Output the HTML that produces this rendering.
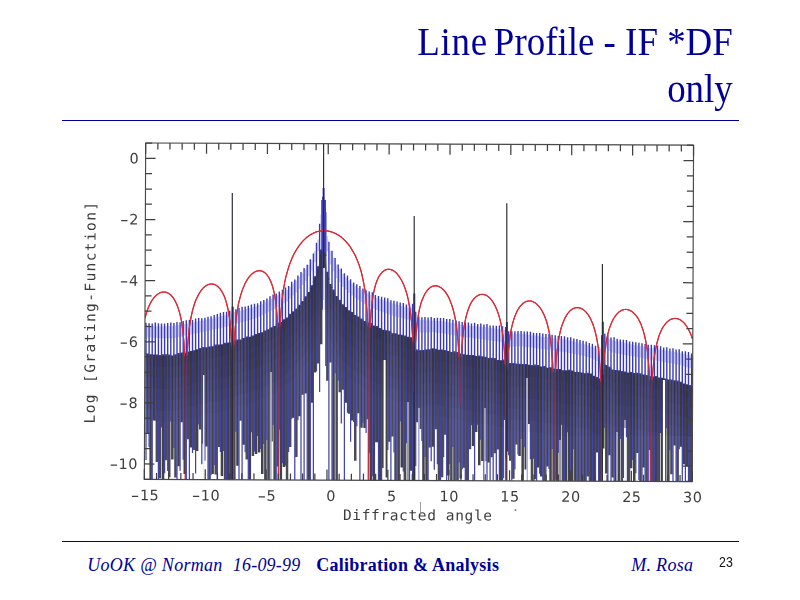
<!DOCTYPE html>
<html><head><meta charset="utf-8"><title>Line Profile - IF *DF only</title>
<style>
html,body{margin:0;padding:0;background:#fff;}
body{width:800px;height:600px;position:relative;overflow:hidden;font-family:"Liberation Serif",serif;color:#000099;}
.title{position:absolute;right:67px;top:18px;text-align:right;font-size:40px;line-height:47px;white-space:nowrap;transform:scaleX(0.923);transform-origin:100% 0;}
.rule{position:absolute;left:62px;width:677px;height:0;border-top:1.3px solid #000099;}
.ft{position:absolute;top:553px;font-size:18px;line-height:24px;white-space:nowrap;}
.it{font-style:italic;}
.num{position:absolute;left:719.3px;top:552.8px;font-family:"Liberation Sans",sans-serif;font-size:15.5px;line-height:18px;color:#111;transform:scaleX(0.8);transform-origin:0 0;}
</style></head><body>
<div class="title"><span style="letter-spacing:0.8px">Line</span><span style="margin-left:-3.6px"> </span>Profile - IF *DF<br>only</div>
<div class="rule" style="top:119.5px"></div>
<svg width="800" height="600" viewBox="0 0 800 600" style="position:absolute;left:0;top:0">
<defs><filter id="bl" x="-5%" y="-5%" width="110%" height="110%"><feGaussianBlur stdDeviation="0.5"/></filter>
<clipPath id="cp"><rect x="145.0" y="142.0" width="548.3" height="337.4" transform="rotate(0.225 145.0 312.0)"/></clipPath></defs>
<g filter="url(#bl)">
<g clip-path="url(#cp)">
<path d="M147.55 325.8V337.4M150.65 325.9V337.6M153.75 326.1V337.9M156.85 326.2V338.1M159.95 326.3V338.3M163.05 326.2V338.3M166.15 326.2V338.3M169.25 326.1V338.2M172.35 326.0V338.2M175.45 325.6V337.7M178.55 325.0V337.0M181.65 324.5V336.4M184.75 323.9V335.7M187.85 323.4V335.1M190.95 322.8V334.5M194.05 322.2V333.8M197.15 321.6V333.2M200.25 321.0V332.5M203.35 320.4V331.9M206.45 319.8V331.2M209.55 319.1V330.5M212.65 318.3V329.8M215.75 317.5V329.1M218.85 316.7V328.4M221.95 316.0V327.7M225.05 315.2V327.0M228.15 314.4V326.2M231.25 312.8V324.9M234.35 311.9V324.0M237.45 311.4V323.3M240.55 310.8V322.6M243.65 309.9V321.7M246.75 309.0V320.8M249.85 308.1V319.9M252.95 307.2V319.0M256.05 306.3V318.1M259.15 304.9V316.7M262.25 303.4V315.2M265.35 301.8V313.7M268.45 300.3V312.2M271.55 298.7V310.7M274.65 297.1V309.0M277.75 295.3V307.1M280.85 293.5V305.2M283.95 291.7V303.3M287.05 289.9V301.4M290.15 286.8V298.4M293.25 283.7V295.4M296.35 280.6V292.4M299.45 277.1V288.7M302.55 273.3V284.9M305.65 269.6V281.1M308.75 265.1V276.3M311.85 259.9V270.7M314.95 251.0V261.9M318.05 239.6V251.0M321.15 214.5V229.1M324.25 197.5V214.1M327.35 236.3V251.2M330.45 250.7V264.5M333.55 257.6V271.2M336.65 264.6V277.9M339.75 269.3V282.3M342.85 274.0V286.7M345.95 277.4V289.8M349.05 280.5V292.7M352.15 283.6V295.5M355.25 286.0V297.9M358.35 288.0V300.0M361.45 290.1V302.1M364.55 291.9V304.0M367.65 293.5V305.5M370.75 295.0V307.1M373.85 296.6V308.6M376.95 298.1V310.1M380.05 299.2V311.2M383.15 300.2V312.3M386.25 301.3V313.4M389.35 302.3V314.5M392.45 303.4V315.6M395.55 304.3V316.4M398.65 305.1V317.2M401.75 305.9V318.0M404.85 306.7V318.8M407.95 307.5V319.5M411.05 307.6V320.0M414.15 296.9V315.0M417.25 317.9V331.3M420.35 319.8V332.6M423.45 320.0V332.5M426.55 320.2V332.4M429.65 320.4V332.3M432.75 320.6V332.2M435.85 320.8V332.5M438.95 321.0V332.8M442.05 321.2V333.2M445.15 321.7V333.7M448.25 322.3V334.3M451.35 322.9V334.9M454.45 323.6V335.5M457.55 324.2V336.1M460.65 324.8V336.7M463.75 325.1V337.0M466.85 325.4V337.4M469.95 325.7V337.8M473.05 326.0V338.2M476.15 326.3V338.6M479.25 326.6V338.9M482.35 326.9V339.3M485.45 327.3V339.7M488.55 327.7V340.2M491.65 328.1V340.6M494.75 328.5V341.1M497.85 329.0V341.6M500.95 329.4V342.0M504.05 329.8V342.5M507.15 327.6V341.9M510.25 334.7V346.7M513.35 334.3V346.6M516.45 333.9V346.4M519.55 333.6V346.3M522.65 333.9V346.5M525.75 334.3V346.9M528.85 334.7V347.3M531.95 335.2V347.6M535.05 335.6V348.0M538.15 336.0V348.5M541.25 336.5V348.9M544.35 336.9V349.3M547.45 337.2V349.7M550.55 337.6V350.2M553.65 338.0V350.6M556.75 338.4V351.0M559.85 338.8V351.4M562.95 339.2V351.8M566.05 339.6V352.3M569.15 340.3V352.9M572.25 341.1V353.5M575.35 341.9V354.2M578.45 342.6V354.8M581.55 343.4V355.5M584.65 344.2V356.1M587.75 345.2V356.9M590.85 346.5V358.0M593.95 347.8V359.5M597.05 349.2V361.1M600.15 348.5V360.9M603.25 328.6V343.1M606.35 337.2V349.1M609.45 339.3V351.1M612.55 340.2V352.5M615.65 340.9V353.2M618.75 341.6V353.8M621.85 342.2V354.4M624.95 342.9V354.9M628.05 343.6V355.5M631.15 344.2V356.1M634.25 344.9V356.6M637.35 345.4V357.2M640.45 346.0V357.8M643.55 346.6V358.3M646.65 347.2V358.9M649.75 347.7V359.4M652.85 348.3V360.0M655.95 348.9V360.5M659.05 349.4V361.1M662.15 349.9V361.7M665.25 350.5V362.3M668.35 351.0V362.9M671.45 351.5V363.4M674.55 352.1V364.0M677.65 352.6V364.6M680.75 353.2V365.3M683.85 354.0V366.2M686.95 354.8V367.2M690.05 355.6V368.1M693.15 356.3V369.0" stroke="#ccccf2" stroke-width="1.6" fill="none"/>
<path d="M145.0 318.2L145.5 316.3L146.0 314.5L146.5 312.9L147.0 311.3L147.5 309.9L148.0 308.5L148.5 307.3L149.0 306.1L149.5 305.0L150.0 304.0L150.5 303.0L151.0 302.1L151.5 301.2L152.0 300.4L152.5 299.6L153.1 298.9L153.6 298.2L154.1 297.6L154.6 297.0L155.1 296.5L155.6 295.9L156.1 295.5L156.6 295.0L157.1 294.6L157.6 294.2L158.1 293.9L158.6 293.5L159.1 293.3L159.6 293.0L160.1 292.8L160.6 292.6L161.1 292.4L161.6 292.3L162.1 292.2L162.6 292.1L163.1 292.0L163.6 292.0L164.1 292.0L164.6 292.0L165.1 292.1L165.6 292.2L166.1 292.3L166.6 292.5L167.1 292.7L167.6 292.9L168.1 293.1L168.6 293.4L169.1 293.7L169.6 294.1L170.1 294.5L170.6 294.9L171.1 295.4L171.6 295.9L172.1 296.5L172.6 297.1L173.1 297.7L173.6 298.4L174.1 299.2L174.5 300.0L175.0 300.8L175.5 301.8L176.0 302.8L176.5 303.8L177.0 305.0L177.5 306.3L178.0 307.6L178.5 309.1L179.0 310.7L179.5 312.4L180.0 314.4L180.5 316.5L181.0 318.8L181.5 321.4L182.0 324.4L182.4 327.8L182.9 331.7L183.4 336.4L183.9 342.2L184.4 349.7L184.8 360.3L185.2 378.6L185.3 479.6L186.2 379.1L186.8 360.6L187.4 349.8L187.9 342.1L188.4 336.1L188.9 331.2L189.4 327.1L190.0 323.5L190.5 320.4L191.0 317.6L191.5 315.1L192.0 312.8L192.5 310.7L193.0 308.8L193.5 307.0L194.0 305.3L194.5 303.8L195.0 302.3L195.5 301.0L196.0 299.7L196.6 298.5L197.1 297.4L197.6 296.4L198.1 295.4L198.6 294.5L199.1 293.6L199.6 292.8L200.1 292.0L200.6 291.2L201.1 290.6L201.6 289.9L202.1 289.3L202.6 288.7L203.1 288.2L203.6 287.7L204.1 287.2L204.6 286.8L205.1 286.4L205.6 286.0L206.1 285.7L206.6 285.4L207.1 285.1L207.6 284.9L208.1 284.7L208.6 284.5L209.1 284.3L209.6 284.2L210.1 284.1L210.6 284.0L211.1 284.0L211.6 284.0L212.1 284.0L212.6 284.1L213.1 284.1L213.6 284.3L214.1 284.4L214.6 284.6L215.1 284.8L215.6 285.0L216.1 285.3L216.6 285.6L217.1 286.0L217.6 286.4L218.1 286.8L218.6 287.2L219.1 287.8L219.6 288.3L220.1 288.9L220.6 289.6L221.1 290.3L221.6 291.0L222.1 291.9L222.6 292.8L223.1 293.7L223.6 294.8L224.1 295.9L224.6 297.1L225.1 298.4L225.5 299.8L226.0 301.4L226.5 303.1L227.0 305.0L227.5 307.0L228.0 309.3L228.5 311.9L229.0 314.8L229.5 318.1L230.0 322.0L230.4 326.7L230.9 332.4L231.4 339.9L231.8 350.5L232.3 368.7L232.3 479.7L233.3 368.4L233.9 349.9L234.4 339.0L234.9 331.2L235.4 325.2L236.0 320.3L236.5 316.1L237.0 312.5L237.5 309.3L238.0 306.5L238.5 303.9L239.0 301.6L239.6 299.4L240.1 297.4L240.6 295.6L241.1 293.9L241.6 292.3L242.1 290.8L242.6 289.4L243.1 288.1L243.6 286.9L244.1 285.7L244.6 284.6L245.1 283.6L245.6 282.6L246.1 281.6L246.6 280.8L247.1 279.9L247.6 279.1L248.1 278.4L248.6 277.7L249.1 277.0L249.6 276.4L250.1 275.8L250.6 275.3L251.1 274.8L251.6 274.3L252.2 273.8L252.7 273.4L253.2 273.0L253.7 272.7L254.2 272.3L254.7 272.0L255.2 271.8L255.7 271.5L256.2 271.3L256.7 271.2L257.2 271.0L257.7 270.9L258.2 270.8L258.7 270.8L259.2 270.7L259.7 270.7L260.2 270.8L260.7 270.8L261.2 270.9L261.7 271.1L262.2 271.2L262.7 271.5L263.2 271.7L263.7 272.0L264.2 272.3L264.7 272.6L265.2 273.0L265.7 273.5L266.2 274.0L266.6 274.5L267.1 275.1L267.6 275.7L268.1 276.5L268.6 277.2L269.1 278.1L269.6 279.0L270.1 280.0L270.6 281.1L271.1 282.3L271.6 283.6L272.1 285.0L272.6 286.6L273.1 288.3L273.6 290.3L274.1 292.4L274.6 294.9L275.1 297.6L275.5 300.8L276.0 304.6L276.5 309.1L277.0 314.7L277.5 322.0L277.9 332.5L278.3 350.6L278.3 479.9L279.4 349.1L279.9 330.5L280.5 319.4L281.0 311.5L281.5 305.4L282.0 300.3L282.6 295.9L283.1 292.2L283.6 288.8L284.1 285.8L284.6 283.0L285.1 280.5L285.6 278.2L286.1 276.0L286.7 274.0L287.2 272.1L287.7 270.4L288.2 268.7L288.7 267.1L289.2 265.6L289.7 264.1L290.2 262.8L290.7 261.4L291.2 260.2L291.7 259.0L292.2 257.8L292.7 256.7L293.2 255.6L293.7 254.6L294.2 253.6L294.7 252.7L295.2 251.8L295.7 250.9L296.2 250.0L296.7 249.2L297.3 248.4L297.8 247.6L298.3 246.9L298.8 246.2L299.3 245.5L299.8 244.8L300.3 244.1L300.8 243.5L301.3 242.9L301.8 242.3L302.3 241.7L302.8 241.2L303.3 240.6L303.8 240.1L304.3 239.6L304.8 239.1L305.3 238.7L305.8 238.2L306.3 237.8L306.8 237.4L307.3 236.9L307.8 236.6L308.3 236.2L308.8 235.8L309.3 235.5L309.8 235.1L310.3 234.8L310.8 234.5L311.3 234.2L311.8 233.9L312.3 233.7L312.8 233.4L313.3 233.2L313.8 232.9L314.3 232.7L314.8 232.5L315.3 232.3L315.8 232.1L316.3 231.9L316.8 231.8L317.3 231.6L317.8 231.5L318.3 231.4L318.8 231.3L319.3 231.1L319.8 231.1L320.3 231.0L320.8 230.9L321.3 230.8L321.8 230.8L322.3 230.8L322.8 230.7L323.3 230.7L323.8 230.7L324.3 230.7L324.8 230.7L325.3 230.7L325.8 230.8L326.3 230.8L326.8 230.9L327.3 230.9L327.8 231.0L328.3 231.1L328.8 231.2L329.3 231.3L329.8 231.4L330.3 231.6L330.8 231.7L331.3 231.8L331.8 232.0L332.3 232.2L332.8 232.4L333.3 232.6L333.8 232.8L334.3 233.0L334.8 233.2L335.3 233.4L335.8 233.7L336.3 233.9L336.8 234.2L337.3 234.5L337.8 234.8L338.3 235.1L338.8 235.4L339.3 235.8L339.8 236.1L340.3 236.5L340.8 236.8L341.3 237.2L341.8 237.6L342.3 238.1L342.8 238.5L343.3 238.9L343.8 239.4L344.3 239.9L344.8 240.4L345.3 240.9L345.8 241.4L346.3 241.9L346.8 242.5L347.3 243.1L347.8 243.7L348.3 244.3L348.8 244.9L349.3 245.6L349.8 246.3L350.3 247.0L350.8 247.7L351.3 248.5L351.7 249.3L352.2 250.1L352.7 250.9L353.2 251.8L353.7 252.7L354.2 253.6L354.7 254.6L355.2 255.6L355.7 256.6L356.2 257.7L356.7 258.9L357.2 260.0L357.7 261.3L358.2 262.6L358.7 263.9L359.2 265.3L359.7 266.8L360.2 268.4L360.7 270.0L361.2 271.8L361.7 273.7L362.1 275.6L362.6 277.8L363.1 280.1L363.6 282.6L364.1 285.3L364.6 288.3L365.1 291.6L365.6 295.3L366.1 299.6L366.5 304.7L367.0 310.8L367.5 318.7L367.9 329.7L368.4 348.3L368.3 480.3L369.4 348.5L369.9 330.4L370.5 320.0L371.0 312.7L371.5 307.1L372.0 302.6L372.6 298.8L373.1 295.7L373.6 292.9L374.1 290.5L374.6 288.3L375.1 286.4L375.6 284.7L376.1 283.1L376.6 281.7L377.1 280.4L377.6 279.2L378.1 278.1L378.6 277.1L379.1 276.2L379.6 275.4L380.1 274.7L380.7 274.0L381.2 273.3L381.7 272.8L382.2 272.2L382.7 271.8L383.2 271.3L383.7 271.0L384.2 270.6L384.7 270.3L385.2 270.1L385.7 269.9L386.2 269.7L386.7 269.5L387.2 269.4L387.7 269.3L388.2 269.3L388.7 269.3L389.2 269.3L389.7 269.4L390.2 269.4L390.7 269.6L391.2 269.7L391.7 269.9L392.2 270.1L392.7 270.3L393.2 270.6L393.7 270.9L394.2 271.2L394.7 271.6L395.2 272.0L395.7 272.4L396.2 272.9L396.7 273.4L397.2 273.9L397.6 274.5L398.1 275.1L398.6 275.7L399.1 276.4L399.6 277.1L400.1 277.9L400.6 278.7L401.1 279.5L401.6 280.4L402.1 281.4L402.6 282.4L403.1 283.5L403.6 284.6L404.1 285.8L404.6 287.1L405.1 288.5L405.6 289.9L406.1 291.5L406.6 293.1L407.1 294.9L407.6 296.8L408.1 298.9L408.5 301.2L409.0 303.6L409.5 306.4L410.0 309.4L410.5 312.9L411.0 316.8L411.5 321.4L411.9 326.9L412.4 333.9L412.9 343.2L413.3 357.7L413.7 391.1L414.2 383.4L414.8 357.5L415.4 344.8L415.9 336.3L416.4 330.0L417.0 325.0L417.5 320.8L418.0 317.3L418.5 314.2L419.0 311.5L419.5 309.2L420.0 307.0L420.5 305.1L421.0 303.3L421.5 301.7L422.0 300.3L422.6 298.9L423.1 297.7L423.6 296.5L424.1 295.5L424.6 294.5L425.1 293.6L425.6 292.8L426.1 292.0L426.6 291.3L427.1 290.6L427.6 290.0L428.1 289.5L428.6 289.0L429.1 288.5L429.6 288.1L430.1 287.7L430.6 287.3L431.1 287.0L431.6 286.8L432.1 286.5L432.6 286.3L433.1 286.2L433.6 286.0L434.1 285.9L434.6 285.9L435.1 285.8L435.6 285.8L436.1 285.9L436.6 285.9L437.1 286.0L437.6 286.1L438.1 286.3L438.6 286.4L439.1 286.7L439.6 286.9L440.1 287.2L440.6 287.5L441.1 287.8L441.6 288.2L442.1 288.6L442.6 289.0L443.1 289.5L443.6 290.0L444.1 290.5L444.6 291.1L445.1 291.7L445.6 292.4L446.1 293.1L446.6 293.8L447.1 294.6L447.6 295.4L448.1 296.3L448.6 297.3L449.1 298.3L449.6 299.4L450.0 300.5L450.5 301.7L451.0 303.0L451.5 304.4L452.0 305.9L452.5 307.5L453.0 309.2L453.5 311.0L454.0 313.0L454.5 315.2L455.0 317.5L455.5 320.2L456.0 323.1L456.4 326.4L456.9 330.2L457.4 334.6L457.9 339.8L458.4 346.4L458.8 355.1L459.3 368.1L459.7 394.2L460.1 404.4L460.8 371.3L461.3 357.1L461.9 347.9L462.4 341.2L462.9 335.9L463.4 331.6L463.9 327.9L464.5 324.7L465.0 321.9L465.5 319.4L466.0 317.2L466.5 315.2L467.0 313.4L467.5 311.7L468.0 310.2L468.5 308.7L469.0 307.4L469.5 306.2L470.0 305.1L470.5 304.1L471.0 303.1L471.5 302.2L472.0 301.4L472.5 300.6L473.0 299.9L473.6 299.3L474.1 298.7L474.6 298.1L475.1 297.6L475.6 297.1L476.1 296.7L476.6 296.3L477.1 296.0L477.6 295.7L478.1 295.4L478.6 295.1L479.1 294.9L479.6 294.7L480.1 294.6L480.6 294.5L481.1 294.4L481.6 294.4L482.1 294.4L482.6 294.4L483.1 294.4L483.6 294.5L484.1 294.6L484.6 294.7L485.1 294.9L485.6 295.1L486.1 295.3L486.6 295.6L487.1 295.9L487.6 296.2L488.1 296.6L488.6 296.9L489.1 297.4L489.6 297.8L490.1 298.3L490.6 298.9L491.1 299.4L491.5 300.0L492.0 300.7L492.5 301.4L493.0 302.1L493.5 302.9L494.0 303.8L494.5 304.7L495.0 305.6L495.5 306.7L496.0 307.7L496.5 308.9L497.0 310.1L497.5 311.5L498.0 312.9L498.5 314.4L499.0 316.0L499.5 317.8L500.0 319.7L500.5 321.7L501.0 324.0L501.4 326.5L501.9 329.3L502.4 332.4L502.9 335.9L503.4 340.0L503.9 344.9L504.4 350.8L504.8 358.5L505.3 369.3L505.7 387.8L505.8 480.8L506.7 388.6L507.3 370.3L507.8 359.7L508.3 352.1L508.9 346.3L509.4 341.6L509.9 337.6L510.4 334.2L510.9 331.3L511.4 328.6L511.9 326.3L512.5 324.1L513.0 322.2L513.5 320.4L514.0 318.8L514.5 317.3L515.0 315.9L515.5 314.7L516.0 313.5L516.5 312.4L517.0 311.3L517.5 310.4L518.0 309.5L518.5 308.7L519.0 307.9L519.5 307.2L520.0 306.5L520.5 305.9L521.0 305.3L521.5 304.8L522.0 304.3L522.5 303.8L523.0 303.4L523.5 303.0L524.0 302.7L524.5 302.4L525.0 302.1L525.5 301.8L526.0 301.6L526.5 301.4L527.0 301.3L527.5 301.2L528.0 301.1L528.5 301.0L529.0 301.0L529.5 301.0L530.0 301.0L530.5 301.0L531.0 301.1L531.5 301.2L532.0 301.3L532.5 301.5L533.0 301.7L533.5 301.9L534.0 302.2L534.5 302.4L535.0 302.8L535.5 303.1L536.0 303.5L536.5 303.9L537.0 304.3L537.5 304.8L538.0 305.3L538.5 305.8L539.0 306.4L539.5 307.0L540.0 307.7L540.5 308.4L541.0 309.2L541.5 310.0L542.0 310.8L542.5 311.7L543.0 312.7L543.5 313.7L544.0 314.8L544.5 315.9L545.0 317.2L545.5 318.5L546.0 319.9L546.5 321.4L547.0 323.0L547.5 324.8L547.9 326.7L548.4 328.7L548.9 331.0L549.4 333.5L549.9 336.2L550.4 339.3L550.9 342.9L551.4 346.9L551.8 351.8L552.3 357.7L552.8 365.4L553.3 376.2L553.7 394.6L553.8 481.0L554.7 395.6L555.2 377.2L555.8 366.6L556.3 359.0L556.8 353.2L557.4 348.5L557.9 344.5L558.4 341.1L558.9 338.1L559.4 335.4L559.9 333.1L560.4 330.9L560.9 329.0L561.4 327.2L561.9 325.6L562.5 324.1L563.0 322.7L563.5 321.4L564.0 320.2L564.5 319.1L565.0 318.1L565.5 317.1L566.0 316.2L566.5 315.4L567.0 314.6L567.5 313.8L568.0 313.2L568.5 312.5L569.0 312.0L569.5 311.4L570.0 310.9L570.5 310.5L571.0 310.0L571.5 309.7L572.0 309.3L572.5 309.0L573.0 308.7L573.5 308.5L574.0 308.2L574.5 308.1L575.0 307.9L575.5 307.8L576.0 307.7L576.5 307.6L577.0 307.6L577.5 307.6L578.0 307.6L578.5 307.7L579.0 307.7L579.5 307.9L580.0 308.0L580.5 308.2L581.0 308.4L581.5 308.6L582.0 308.9L582.5 309.1L583.0 309.5L583.5 309.8L584.0 310.2L584.5 310.6L585.0 311.1L585.5 311.6L586.0 312.1L586.5 312.7L587.0 313.3L587.5 313.9L588.0 314.6L588.5 315.3L589.0 316.1L589.5 316.9L590.0 317.8L590.5 318.8L591.0 319.8L591.5 320.9L592.0 322.0L592.5 323.2L593.0 324.5L593.4 325.9L593.9 327.4L594.4 329.0L594.9 330.7L595.4 332.6L595.9 334.7L596.4 336.9L596.9 339.4L597.4 342.2L597.9 345.3L598.4 348.8L598.8 352.9L599.3 357.7L599.8 363.6L600.3 371.3L600.7 382.1L601.2 400.5L601.3 481.2L602.2 398.6L602.7 380.3L603.3 369.6L603.8 362.0L604.3 356.2L604.8 351.4L605.4 347.5L605.9 344.0L606.4 341.0L606.9 338.4L607.4 336.0L607.9 333.8L608.4 331.9L608.9 330.1L609.4 328.4L609.9 326.9L610.5 325.5L611.0 324.2L611.5 322.9L612.0 321.8L612.5 320.8L613.0 319.8L613.5 318.8L614.0 318.0L614.5 317.2L615.0 316.4L615.5 315.7L616.0 315.1L616.5 314.5L617.0 313.9L617.5 313.4L618.0 312.9L618.5 312.4L619.0 312.0L619.5 311.6L620.0 311.3L620.5 310.9L621.0 310.7L621.5 310.4L622.0 310.2L622.5 310.0L623.0 309.8L623.5 309.7L624.0 309.6L624.5 309.5L625.0 309.5L625.5 309.4L626.0 309.4L626.5 309.5L627.0 309.5L627.5 309.6L628.0 309.7L628.5 309.9L629.0 310.0L629.5 310.2L630.0 310.4L630.5 310.7L631.0 311.0L631.5 311.3L632.0 311.6L632.5 312.0L633.0 312.4L633.5 312.8L634.0 313.3L634.5 313.8L635.0 314.3L635.5 314.9L636.0 315.5L636.5 316.2L637.0 316.9L637.5 317.6L638.0 318.4L638.5 319.3L639.0 320.2L639.5 321.1L640.0 322.1L640.5 323.2L641.0 324.3L641.5 325.6L641.9 326.9L642.4 328.3L642.9 329.8L643.4 331.4L643.9 333.1L644.4 335.0L644.9 337.0L645.4 339.3L645.9 341.8L646.4 344.5L646.9 347.6L647.4 351.1L647.8 355.2L648.3 360.0L648.8 366.0L649.3 373.6L649.7 384.4L650.1 402.8L650.3 481.4L651.1 408.2L651.7 389.8L652.2 379.1L652.8 371.5L653.3 365.7L653.8 361.0L654.3 357.0L654.8 353.5L655.4 350.5L655.9 347.8L656.4 345.4L656.9 343.3L657.4 341.3L657.9 339.5L658.4 337.8L658.9 336.3L659.4 334.9L659.9 333.6L660.4 332.3L660.9 331.2L661.4 330.1L661.9 329.1L662.4 328.2L662.9 327.3L663.4 326.5L664.0 325.7L664.5 325.0L665.0 324.4L665.5 323.7L666.0 323.2L666.5 322.6L667.0 322.1L667.5 321.6L668.0 321.2L668.5 320.8L669.0 320.5L669.5 320.1L670.0 319.8L670.5 319.6L671.0 319.3L671.5 319.1L672.0 318.9L672.5 318.8L673.0 318.7L673.5 318.6L674.0 318.5L674.5 318.4L675.0 318.4L675.5 318.4L676.0 318.5L676.5 318.5L677.0 318.6L677.5 318.7L678.0 318.9L678.5 319.1L679.0 319.3L679.5 319.5L680.0 319.8L680.5 320.0L681.0 320.3L681.5 320.7L682.0 321.1L682.5 321.5L683.0 321.9L683.5 322.4L684.0 322.9L684.5 323.4L685.0 324.0L685.5 324.6L686.0 325.3L686.4 326.0L686.9 326.7L687.4 327.5L687.9 328.4L688.4 329.2L688.9 330.2L689.4 331.2L689.9 332.3L690.4 333.4L690.9 334.6L691.4 335.9L691.9 337.3L692.4 338.8" stroke="#d8303a" stroke-width="1.2" fill="none" stroke-linejoin="round"/>
<path d="M150.65 354.2V479.4M153.75 354.4V420.4M163.05 354.3V479.5M172.35 355.5V459.4M178.55 353.1V466.2M181.65 352.5V422.3M184.75 352.8V473.9M190.95 351.1V447.6M197.15 349.2V451.1M206.45 347.2V446.6M212.65 346.2V473.9M221.95 344.3V475.9M228.15 342.4V479.7M231.25 342.4V479.7M237.45 339.4V465.8M243.65 338.0V444.7M249.85 336.8V479.8M256.05 334.1V454.0M259.15 332.9V452.4M262.25 332.3V474.1M271.55 327.3V441.5M274.65 326.0V479.9M280.85 322.0V479.9M283.95 319.3V466.9M293.25 311.2V417.7M299.45 304.7V416.2M305.65 296.3V393.5M308.75 291.9V480.0M311.85 285.3V402.8M314.95 276.3V372.6M321.15 249.5V344.2M333.55 289.6V480.1M345.95 307.0V402.7M352.15 312.1V420.4M358.35 316.4V413.2M361.45 318.5V427.8M364.55 320.9V428.1M370.75 323.0V480.3M373.85 325.4V479.9M376.95 326.1V442.3M380.05 327.9V480.3M383.15 329.7V467.9M386.25 330.2V477.6M398.65 334.5V480.4M401.75 334.8V467.6M407.95 336.7V480.4M411.05 337.2V470.7M414.15 342.2V480.5M423.45 350.0V480.5M426.55 349.4V480.5M432.75 348.3V446.7M448.25 350.9V475.4M473.05 355.0V446.1M476.15 356.0V431.9M479.25 355.6V465.2M482.35 356.2V461.1M485.45 356.8V461.2M488.55 358.0V462.4M500.95 360.2V480.8M504.05 359.6V478.2M507.15 362.8V451.5M519.55 363.8V456.1M522.65 363.9V480.9M525.75 363.9V469.4M528.85 364.8V424.1M538.15 365.0V467.4M541.25 366.4V476.5M547.45 367.7V466.6M550.55 367.3V481.0M553.65 368.7V481.0M556.75 369.0V481.0M559.85 369.1V481.0M566.05 370.3V481.1M569.15 369.8V481.1M572.25 370.4V481.1M575.35 372.0V481.1M581.55 372.6V481.1M584.65 373.2V481.1M590.85 373.5V481.2M593.95 375.7V481.2M597.05 377.1V452.5M600.15 378.4V481.2M603.25 364.4V448.5M606.35 365.1V473.5M609.45 366.7V455.2M615.65 370.1V481.2M618.75 370.3V481.3M631.15 372.0V468.2M634.25 372.9V481.3M637.35 372.7V452.9M643.55 374.5V467.4M655.95 376.1V481.4M662.15 377.8V481.4M665.25 378.6V481.4M668.35 379.4V481.5M674.55 380.3V445.5M680.75 381.8V446.8M683.85 383.6V464.2M686.95 384.2V466.3M693.15 387.3V481.6" stroke="#42424a" stroke-width="2.5" fill="none"/>
<path d="M147.55 353.4V433.3M156.85 354.5V461.9M159.95 354.9V478.3M166.15 354.2V460.2M169.25 354.6V477.3M175.45 354.3V477.5M187.85 351.8V439.2M194.05 350.3V450.1M200.25 348.1V429.4M203.35 347.0V443.7M209.55 346.6V479.7M215.75 344.4V474.5M218.85 344.6V446.9M225.05 342.8V479.7M234.35 341.3V479.8M240.55 339.6V420.8M246.75 336.4V459.5M252.95 335.5V456.0M265.35 330.5V479.9M268.45 329.2V479.9M277.75 322.8V466.4M287.05 317.6V480.0M290.15 313.7V446.9M296.35 308.6V457.0M302.55 301.0V394.8M318.05 266.3V363.4M324.25 237.5V309.9M327.35 271.8V380.7M330.45 283.9V362.5M336.65 296.1V480.2M339.75 299.8V392.2M342.85 304.3V389.7M349.05 310.2V413.8M355.25 314.9V460.8M367.65 322.6V419.2M389.35 330.7V441.7M392.45 333.2V436.4M395.55 333.3V480.4M404.85 335.5V480.4M417.25 349.4V422.2M420.35 350.1V428.9M429.65 349.3V447.4M435.85 348.8V429.3M438.95 349.8V480.6M442.05 349.4V477.2M445.15 350.1V434.7M451.35 352.1V480.6M454.45 351.3V480.6M457.55 352.0V480.6M460.65 353.5V478.5M463.75 354.3V467.8M466.85 354.7V480.7M469.95 355.1V449.2M491.65 357.7V457.3M494.75 358.0V453.3M497.85 359.9V449.4M510.25 363.0V460.7M513.35 362.9V478.7M516.45 363.4V444.4M531.95 364.9V480.9M535.05 364.5V479.3M544.35 366.1V481.0M562.95 370.2V481.0M578.45 372.0V481.1M587.75 372.7V476.5M612.55 369.5V477.4M621.85 370.9V481.3M624.95 371.5V428.0M628.05 372.5V481.3M640.45 373.2V481.3M646.65 375.0V481.4M649.75 376.2V450.0M652.85 376.5V481.4M659.05 377.5V481.4M671.45 379.5V474.3M677.65 380.6V481.5M690.05 384.9V481.5" stroke="#4b4b58" stroke-width="2.5" fill="none"/>
<path d="M146.00 322.7V354.1M149.10 323.2V354.5M152.20 323.6V355.0M155.30 322.6V355.4M158.40 323.2V355.8M161.50 323.5V356.0M164.60 323.6V356.0M167.70 323.0V356.0M170.80 322.6V356.0M173.90 323.1V355.8M177.00 322.1V355.0M180.10 322.3V354.2M183.20 320.9V353.4M186.30 320.2V352.6M189.40 319.7V351.9M192.50 320.1V351.1M195.60 318.4V350.4M198.70 318.0V349.7M201.80 318.3V348.9M204.90 317.7V348.2M208.00 316.7V347.5M211.10 316.2V346.9M214.20 315.0V346.4M217.30 314.0V345.8M220.40 312.8V345.2M223.50 312.0V344.6M226.60 311.7V344.1M229.70 310.8V343.2M232.80 307.1V342.2M235.90 309.2V341.3M239.00 307.9V340.3M242.10 306.8V339.4M245.20 306.4V338.5M248.30 305.7V337.6M251.40 304.6V336.6M254.50 303.8V335.7M257.60 303.2V334.7M260.70 301.2V333.3M263.80 299.9V331.9M266.90 298.6V330.5M270.00 296.3V329.1M273.10 294.4V327.6M276.20 293.5V325.5M279.30 291.6V323.3M282.40 289.7V321.2M285.50 287.6V319.0M288.60 286.0V316.6M291.70 281.7V313.8M294.80 279.4V311.0M297.90 275.6V307.8M301.00 272.0V303.8M304.10 267.9V299.8M307.20 264.8V295.6M310.30 259.2V289.4M313.40 253.6V282.7M316.50 242.8V272.8M319.60 223.8V259.4M322.70 196.7V240.1M325.80 212.3V256.0M328.90 241.7V279.7M332.00 250.8V288.1M335.10 258.1V294.4M338.20 264.6V299.6M341.30 268.5V303.5M344.40 273.2V306.9M347.50 275.5V309.4M350.60 279.2V311.8M353.70 282.5V314.3M356.80 284.2V316.5M359.90 286.0V318.6M363.00 288.6V320.8M366.10 290.3V322.4M369.20 291.5V324.0M372.30 292.3V325.5M375.40 294.9V327.1M378.50 296.1V328.4M381.60 296.8V329.5M384.70 297.6V330.6M387.80 298.2V331.7M390.90 300.2V332.8M394.00 300.8V333.9M397.10 301.6V334.6M400.20 302.6V335.4M403.30 303.0V336.1M406.40 304.4V336.8M409.50 304.6V337.6M412.60 303.8V338.7M415.70 311.8V350.1M418.80 316.8V351.6M421.90 317.3V351.0M425.00 317.0V350.5M428.10 317.4V349.9M431.20 317.0V349.3M434.30 317.9V349.2M437.40 317.8V349.8M440.50 318.0V350.4M443.60 318.1V351.0M446.70 319.0V351.5M449.80 319.1V352.1M452.90 319.7V352.7M456.00 320.4V353.3M459.10 321.2V353.8M462.20 321.9V354.3M465.30 322.6V354.8M468.40 322.6V355.3M471.50 323.4V355.8M474.60 322.7V356.3M477.70 323.9V356.8M480.80 323.4V357.3M483.90 324.5V357.8M487.00 324.0V358.3M490.10 325.5V358.8M493.20 325.6V359.3M496.30 325.8V359.8M499.40 325.6V360.4M502.50 326.3V360.9M505.60 327.0V361.9M508.70 331.3V364.1M511.80 331.3V364.4M514.90 331.3V364.7M518.00 331.1V364.9M521.10 330.9V365.1M524.20 331.4V365.3M527.30 331.4V365.6M530.40 331.8V365.8M533.50 332.8V366.0M536.60 333.0V366.5M539.70 333.1V367.0M542.80 333.5V367.4M545.90 334.1V367.9M549.00 333.9V368.4M552.10 334.8V368.8M555.20 335.3V369.3M558.30 336.0V369.7M561.40 336.1V370.2M564.50 336.2V370.7M567.60 337.3V371.1M570.70 337.3V371.6M573.80 338.6V372.0M576.90 339.1V372.4M580.00 340.0V372.9M583.10 340.7V373.3M586.20 341.5V373.8M589.30 342.9V374.2M592.40 343.7V375.7M595.50 345.7V377.6M598.60 347.0V379.3M601.70 335.2V377.4M604.80 333.7V365.3M607.90 335.1V367.4M611.00 337.4V369.5M614.10 337.2V371.1M617.20 338.7V371.5M620.30 339.4V371.9M623.40 339.8V372.4M626.50 339.9V372.8M629.60 341.4V373.2M632.70 341.7V373.6M635.80 342.3V374.1M638.90 342.8V374.7M642.00 343.2V375.2M645.10 344.1V375.7M648.20 344.7V376.2M651.30 344.7V376.8M654.40 345.3V377.3M657.50 345.6V377.9M660.60 346.3V378.5M663.70 347.6V379.2M666.80 347.3V379.9M669.90 348.4V380.5M673.00 348.3V381.2M676.10 349.6V381.9M679.20 349.3V382.5M682.30 351.2V383.6M685.40 351.3V384.8M688.50 352.0V386.0M691.60 353.4V387.2" stroke="#3838be" stroke-width="1.4" fill="none"/>
<path d="M146.00 353.1V460.0M149.10 353.5V447.1M152.20 354.0V479.4M155.30 354.4V420.8M158.40 354.8V479.5M161.50 355.0V427.5M164.60 355.0V473.2M167.70 355.0V470.9M170.80 355.0V421.6M173.90 354.8V448.0M177.00 354.0V479.5M180.10 353.2V470.7M183.20 352.4V459.7M186.30 351.6V479.6M189.40 350.9V479.6M192.50 350.1V452.9M195.60 349.4V473.5M198.70 348.7V424.6M201.80 347.9V464.2M204.90 347.2V460.7M208.00 346.5V479.6M211.10 345.9V475.2M214.20 345.4V465.1M217.30 344.8V479.7M220.40 344.2V452.0M223.50 343.6V451.0M226.60 343.1V479.7M229.70 342.2V479.7M232.80 341.2V432.9M235.90 340.3V431.7M239.00 339.3V479.8M242.10 338.4V479.8M245.20 337.5V452.3M248.30 336.6V479.8M251.40 335.6V432.3M254.50 334.7V451.5M257.60 333.7V436.1M260.70 332.3V449.1M263.80 330.9V444.1M266.90 329.5V439.9M270.00 328.1V479.9M273.10 326.6V424.9M276.20 324.5V479.9M279.30 322.3V429.7M282.40 320.2V463.2M285.50 318.0V465.8M288.60 315.6V452.1M291.70 312.8V418.9M294.80 310.0V480.0M297.90 306.8V420.0M301.00 302.8V480.0M304.10 298.8V480.0M307.20 294.6V480.0M310.30 288.4V480.0M313.40 281.7V480.1M316.50 271.8V371.2M319.60 258.4V392.1M322.70 239.1V309.7M325.80 255.0V366.1M328.90 278.7V480.1M332.00 287.1V480.1M335.10 293.4V373.2M338.20 298.6V380.4M341.30 302.5V423.5M344.40 305.9V480.2M347.50 308.4V412.7M350.60 310.8V441.7M353.70 313.3V422.1M356.80 315.5V426.2M359.90 317.6V480.2M363.00 319.8V422.7M366.10 321.4V433.0M369.20 323.0V452.7M372.30 324.5V476.2M375.40 326.1V442.2M378.50 327.4V480.3M381.60 328.5V480.3M384.70 329.6V474.2M387.80 330.7V450.1M390.90 331.8V480.4M394.00 332.9V452.6M397.10 333.6V480.4M400.20 334.4V421.4M403.30 335.1V471.6M406.40 335.8V443.2M409.50 336.6V480.4M412.60 337.7V480.5M415.70 349.1V466.1M418.80 350.6V480.5M421.90 350.0V441.0M425.00 349.5V457.1M428.10 348.9V480.5M431.20 348.3V461.2M434.30 348.2V469.8M437.40 348.8V464.2M440.50 349.4V480.6M443.60 350.0V456.9M446.70 350.5V480.6M449.80 351.1V464.2M452.90 351.7V447.0M456.00 352.3V480.6M459.10 352.8V462.6M462.20 353.3V469.2M465.30 353.8V480.7M468.40 354.3V480.7M471.50 354.8V425.3M474.60 355.3V480.7M477.70 355.8V424.8M480.80 356.3V439.7M483.90 356.8V480.7M487.00 357.3V480.7M490.10 357.8V480.8M493.20 358.3V480.8M496.30 358.8V480.8M499.40 359.4V480.8M502.50 359.9V480.8M505.60 360.9V458.9M508.70 363.1V455.2M511.80 363.4V480.8M514.90 363.7V469.5M518.00 363.9V454.4M521.10 364.1V439.0M524.20 364.3V447.3M527.30 364.6V480.9M530.40 364.8V459.3M533.50 365.0V458.8M536.60 365.5V480.9M539.70 366.0V473.7M542.80 366.4V481.0M545.90 366.9V481.0M549.00 367.4V469.1M552.10 367.8V448.9M555.20 368.3V479.7M558.30 368.7V452.7M561.40 369.2V424.7M564.50 369.7V481.0M567.60 370.1V432.2M570.70 370.6V481.1M573.80 371.0V449.2M576.90 371.4V481.1M580.00 371.9V481.1M583.10 372.3V481.1M586.20 372.8V481.1M589.30 373.2V481.1M592.40 374.7V481.2M595.50 376.6V481.2M598.60 378.3V481.2M601.70 376.4V464.5M604.80 364.3V427.8M607.90 366.4V481.2M611.00 368.5V481.2M614.10 370.1V481.2M617.20 370.5V481.3M620.30 370.9V438.9M623.40 371.4V478.0M626.50 371.8V437.3M629.60 372.2V481.3M632.70 372.6V460.0M635.80 373.1V473.2M638.90 373.7V479.9M642.00 374.2V481.4M645.10 374.7V481.4M648.20 375.2V481.4M651.30 375.8V481.4M654.40 376.3V481.4M657.50 376.9V481.4M660.60 377.5V432.9M663.70 378.2V464.7M666.80 378.9V428.2M669.90 379.5V450.3M673.00 380.2V481.5M676.10 380.9V481.5M679.20 381.5V449.2M682.30 382.6V481.5M685.40 383.8V481.5M688.50 385.0V481.5M691.60 386.2V481.5" stroke="#4242b0" stroke-width="1.25" fill="none"/>
<polygon points="144.0,354.0 146.0,354.1 148.0,354.4 150.0,354.7 152.0,354.9 154.0,355.2 156.0,355.5 158.0,355.7 160.0,356.0 162.0,356.0 164.0,356.0 166.0,356.0 168.0,356.0 170.0,356.0 172.0,356.0 174.0,355.7 176.0,355.2 178.0,354.7 180.0,354.2 182.0,353.7 184.0,353.2 186.0,352.7 188.0,352.2 190.0,351.7 192.0,351.2 194.0,350.8 196.0,350.3 198.0,349.8 200.0,349.3 202.0,348.9 204.0,348.4 206.0,347.9 208.0,347.5 210.0,347.1 212.0,346.8 214.0,346.4 216.0,346.0 218.0,345.7 220.0,345.3 222.0,344.9 224.0,344.6 226.0,344.2 228.0,343.7 230.0,343.1 232.0,342.5 234.0,341.8 236.0,341.2 238.0,340.6 240.0,340.0 242.0,339.4 244.0,338.8 246.0,338.2 248.0,337.6 250.0,337.1 252.0,336.5 254.0,335.9 256.0,335.3 258.0,334.5 260.0,333.6 262.0,332.7 264.0,331.8 266.0,330.9 268.0,330.0 270.0,329.1 272.0,328.2 274.0,327.0 276.0,325.6 278.0,324.2 280.0,322.9 282.0,321.5 284.0,320.1 286.0,318.7 288.0,317.1 290.0,315.3 292.0,313.5 294.0,311.7 296.0,309.9 298.0,307.7 300.0,305.1 302.0,302.5 304.0,299.9 306.0,297.3 308.0,294.0 310.0,290.0 312.0,286.0 314.0,280.8 316.0,274.4 318.0,268.0 320.0,257.2 322.0,245.6 324.0,236.8 326.0,259.3 328.0,276.1 330.0,284.0 332.0,288.1 334.0,292.2 336.0,296.3 338.0,299.3 340.0,301.9 342.0,304.4 344.0,306.6 346.0,308.2 348.0,309.8 350.0,311.4 352.0,313.0 354.0,314.5 356.0,315.9 358.0,317.3 360.0,318.7 362.0,320.1 364.0,321.4 366.0,322.4 368.0,323.4 370.0,324.4 372.0,325.4 374.0,326.4 376.0,327.4 378.0,328.2 380.0,328.9 382.0,329.6 384.0,330.3 386.0,331.1 388.0,331.8 390.0,332.5 392.0,333.2 394.0,333.9 396.0,334.3 398.0,334.8 400.0,335.3 402.0,335.8 404.0,336.3 406.0,336.7 408.0,337.2 410.0,337.7 412.0,338.4 414.0,341.8 416.0,350.3 418.0,351.5 420.0,351.4 422.0,351.0 424.0,350.7 426.0,350.3 428.0,349.9 430.0,349.6 432.0,349.2 434.0,349.2 436.0,349.6 438.0,349.9 440.0,350.3 442.0,350.7 444.0,351.0 446.0,351.4 448.0,351.8 450.0,352.1 452.0,352.5 454.0,352.9 456.0,353.3 458.0,353.6 460.0,354.0 462.0,354.3 464.0,354.6 466.0,355.0 468.0,355.3 470.0,355.6 472.0,355.9 474.0,356.2 476.0,356.5 478.0,356.9 480.0,357.2 482.0,357.5 484.0,357.8 486.0,358.1 488.0,358.5 490.0,358.8 492.0,359.1 494.0,359.5 496.0,359.8 498.0,360.1 500.0,360.5 502.0,360.8 504.0,361.3 506.0,362.0 508.0,364.0 510.0,364.3 512.0,364.4 514.0,364.6 516.0,364.7 518.0,364.9 520.0,365.0 522.0,365.2 524.0,365.3 526.0,365.5 528.0,365.6 530.0,365.8 532.0,365.9 534.0,366.1 536.0,366.4 538.0,366.7 540.0,367.0 542.0,367.3 544.0,367.6 546.0,367.9 548.0,368.2 550.0,368.5 552.0,368.8 554.0,369.1 556.0,369.4 558.0,369.7 560.0,370.0 562.0,370.3 564.0,370.6 566.0,370.9 568.0,371.2 570.0,371.5 572.0,371.8 574.0,372.0 576.0,372.3 578.0,372.6 580.0,372.9 582.0,373.2 584.0,373.5 586.0,373.7 588.0,374.0 590.0,374.3 592.0,375.5 594.0,376.7 596.0,377.9 598.0,379.1 600.0,379.1 602.0,374.9 604.0,364.8 606.0,366.1 608.0,367.4 610.0,368.8 612.0,370.1 614.0,371.1 616.0,371.4 618.0,371.6 620.0,371.9 622.0,372.2 624.0,372.4 626.0,372.7 628.0,373.0 630.0,373.3 632.0,373.5 634.0,373.8 636.0,374.2 638.0,374.5 640.0,374.8 642.0,375.2 644.0,375.5 646.0,375.9 648.0,376.2 650.0,376.6 652.0,376.9 654.0,377.2 656.0,377.6 658.0,378.0 660.0,378.4 662.0,378.8 664.0,379.3 666.0,379.7 668.0,380.1 670.0,380.6 672.0,381.0 674.0,381.4 676.0,381.8 678.0,382.3 680.0,382.7 682.0,383.5 684.0,384.2 686.0,385.0 688.0,385.8 690.0,386.5 692.0,387.3 694.0,387.7 694.0,398.7 692.0,398.3 690.0,397.5 688.0,396.8 686.0,396.0 684.0,395.2 682.0,394.5 680.0,393.7 678.0,393.3 676.0,392.8 674.0,392.4 672.0,392.0 670.0,391.6 668.0,391.1 666.0,390.7 664.0,390.3 662.0,389.8 660.0,389.4 658.0,389.0 656.0,388.6 654.0,388.2 652.0,387.9 650.0,387.6 648.0,387.2 646.0,386.9 644.0,386.5 642.0,386.2 640.0,385.8 638.0,385.5 636.0,385.2 634.0,384.8 632.0,384.5 630.0,384.3 628.0,384.0 626.0,383.7 624.0,383.4 622.0,383.2 620.0,382.9 618.0,382.6 616.0,382.4 614.0,382.1 612.0,381.1 610.0,379.8 608.0,378.4 606.0,377.1 604.0,375.8 602.0,385.9 600.0,390.1 598.0,390.1 596.0,388.9 594.0,387.7 592.0,386.5 590.0,385.3 588.0,385.0 586.0,384.7 584.0,384.5 582.0,384.2 580.0,383.9 578.0,383.6 576.0,383.3 574.0,383.0 572.0,382.8 570.0,382.5 568.0,382.2 566.0,381.9 564.0,381.6 562.0,381.3 560.0,381.0 558.0,380.7 556.0,380.4 554.0,380.1 552.0,379.8 550.0,379.5 548.0,379.2 546.0,378.9 544.0,378.6 542.0,378.3 540.0,378.0 538.0,377.7 536.0,377.4 534.0,377.1 532.0,376.9 530.0,376.8 528.0,376.6 526.0,376.5 524.0,376.3 522.0,376.2 520.0,376.0 518.0,375.9 516.0,375.7 514.0,375.6 512.0,375.4 510.0,375.3 508.0,375.0 506.0,373.0 504.0,372.3 502.0,371.8 500.0,371.5 498.0,371.1 496.0,370.8 494.0,370.5 492.0,370.1 490.0,369.8 488.0,369.5 486.0,369.1 484.0,368.8 482.0,368.5 480.0,368.2 478.0,367.9 476.0,367.5 474.0,367.2 472.0,366.9 470.0,366.6 468.0,366.3 466.0,366.0 464.0,365.6 462.0,365.3 460.0,365.0 458.0,364.6 456.0,364.3 454.0,363.9 452.0,363.5 450.0,363.1 448.0,362.8 446.0,362.4 444.0,362.0 442.0,361.7 440.0,361.3 438.0,360.9 436.0,360.6 434.0,360.2 432.0,360.2 430.0,360.6 428.0,360.9 426.0,361.3 424.0,361.7 422.0,362.0 420.0,362.4 418.0,362.5 416.0,361.3 414.0,352.8 412.0,349.4 410.0,348.7 408.0,348.2 406.0,347.7 404.0,347.3 402.0,346.8 400.0,346.3 398.0,345.8 396.0,345.3 394.0,344.9 392.0,344.2 390.0,343.5 388.0,342.8 386.0,342.1 384.0,341.3 382.0,340.6 380.0,339.9 378.0,339.2 376.0,338.4 374.0,337.4 372.0,336.4 370.0,335.4 368.0,334.4 366.0,333.4 364.0,332.4 362.0,331.1 360.0,329.7 358.0,328.3 356.0,326.9 354.0,325.5 352.0,324.0 350.0,322.4 348.0,320.8 346.0,319.2 344.0,317.6 342.0,315.4 340.0,312.9 338.0,310.3 336.0,307.3 334.0,303.2 332.0,299.1 330.0,295.0 328.0,287.1 326.0,270.3 324.0,247.8 322.0,256.6 320.0,268.2 318.0,279.0 316.0,285.4 314.0,291.8 312.0,297.0 310.0,301.0 308.0,305.0 306.0,308.3 304.0,310.9 302.0,313.5 300.0,316.1 298.0,318.7 296.0,320.9 294.0,322.7 292.0,324.5 290.0,326.3 288.0,328.1 286.0,329.7 284.0,331.1 282.0,332.5 280.0,333.9 278.0,335.2 276.0,336.6 274.0,338.0 272.0,339.2 270.0,340.1 268.0,341.0 266.0,341.9 264.0,342.8 262.0,343.7 260.0,344.6 258.0,345.5 256.0,346.3 254.0,346.9 252.0,347.5 250.0,348.1 248.0,348.6 246.0,349.2 244.0,349.8 242.0,350.4 240.0,351.0 238.0,351.6 236.0,352.2 234.0,352.8 232.0,353.5 230.0,354.1 228.0,354.7 226.0,355.2 224.0,355.6 222.0,355.9 220.0,356.3 218.0,356.7 216.0,357.0 214.0,357.4 212.0,357.8 210.0,358.1 208.0,358.5 206.0,358.9 204.0,359.4 202.0,359.9 200.0,360.3 198.0,360.8 196.0,361.3 194.0,361.8 192.0,362.2 190.0,362.7 188.0,363.2 186.0,363.7 184.0,364.2 182.0,364.7 180.0,365.2 178.0,365.7 176.0,366.2 174.0,366.7 172.0,367.0 170.0,367.0 168.0,367.0 166.0,367.0 164.0,367.0 162.0,367.0 160.0,367.0 158.0,366.7 156.0,366.5 154.0,366.2 152.0,365.9 150.0,365.7 148.0,365.4 146.0,365.1 144.0,365.0" fill="#101018" opacity="0.048"/>
<polygon points="144.0,354.0 146.0,354.1 148.0,354.4 150.0,354.7 152.0,354.9 154.0,355.2 156.0,355.5 158.0,355.7 160.0,356.0 162.0,356.0 164.0,356.0 166.0,356.0 168.0,356.0 170.0,356.0 172.0,356.0 174.0,355.7 176.0,355.2 178.0,354.7 180.0,354.2 182.0,353.7 184.0,353.2 186.0,352.7 188.0,352.2 190.0,351.7 192.0,351.2 194.0,350.8 196.0,350.3 198.0,349.8 200.0,349.3 202.0,348.9 204.0,348.4 206.0,347.9 208.0,347.5 210.0,347.1 212.0,346.8 214.0,346.4 216.0,346.0 218.0,345.7 220.0,345.3 222.0,344.9 224.0,344.6 226.0,344.2 228.0,343.7 230.0,343.1 232.0,342.5 234.0,341.8 236.0,341.2 238.0,340.6 240.0,340.0 242.0,339.4 244.0,338.8 246.0,338.2 248.0,337.6 250.0,337.1 252.0,336.5 254.0,335.9 256.0,335.3 258.0,334.5 260.0,333.6 262.0,332.7 264.0,331.8 266.0,330.9 268.0,330.0 270.0,329.1 272.0,328.2 274.0,327.0 276.0,325.6 278.0,324.2 280.0,322.9 282.0,321.5 284.0,320.1 286.0,318.7 288.0,317.1 290.0,315.3 292.0,313.5 294.0,311.7 296.0,309.9 298.0,307.7 300.0,305.1 302.0,302.5 304.0,299.9 306.0,297.3 308.0,294.0 310.0,290.0 312.0,286.0 314.0,280.8 316.0,274.4 318.0,268.0 320.0,257.2 322.0,245.6 324.0,236.8 326.0,259.3 328.0,276.1 330.0,284.0 332.0,288.1 334.0,292.2 336.0,296.3 338.0,299.3 340.0,301.9 342.0,304.4 344.0,306.6 346.0,308.2 348.0,309.8 350.0,311.4 352.0,313.0 354.0,314.5 356.0,315.9 358.0,317.3 360.0,318.7 362.0,320.1 364.0,321.4 366.0,322.4 368.0,323.4 370.0,324.4 372.0,325.4 374.0,326.4 376.0,327.4 378.0,328.2 380.0,328.9 382.0,329.6 384.0,330.3 386.0,331.1 388.0,331.8 390.0,332.5 392.0,333.2 394.0,333.9 396.0,334.3 398.0,334.8 400.0,335.3 402.0,335.8 404.0,336.3 406.0,336.7 408.0,337.2 410.0,337.7 412.0,338.4 414.0,341.8 416.0,350.3 418.0,351.5 420.0,351.4 422.0,351.0 424.0,350.7 426.0,350.3 428.0,349.9 430.0,349.6 432.0,349.2 434.0,349.2 436.0,349.6 438.0,349.9 440.0,350.3 442.0,350.7 444.0,351.0 446.0,351.4 448.0,351.8 450.0,352.1 452.0,352.5 454.0,352.9 456.0,353.3 458.0,353.6 460.0,354.0 462.0,354.3 464.0,354.6 466.0,355.0 468.0,355.3 470.0,355.6 472.0,355.9 474.0,356.2 476.0,356.5 478.0,356.9 480.0,357.2 482.0,357.5 484.0,357.8 486.0,358.1 488.0,358.5 490.0,358.8 492.0,359.1 494.0,359.5 496.0,359.8 498.0,360.1 500.0,360.5 502.0,360.8 504.0,361.3 506.0,362.0 508.0,364.0 510.0,364.3 512.0,364.4 514.0,364.6 516.0,364.7 518.0,364.9 520.0,365.0 522.0,365.2 524.0,365.3 526.0,365.5 528.0,365.6 530.0,365.8 532.0,365.9 534.0,366.1 536.0,366.4 538.0,366.7 540.0,367.0 542.0,367.3 544.0,367.6 546.0,367.9 548.0,368.2 550.0,368.5 552.0,368.8 554.0,369.1 556.0,369.4 558.0,369.7 560.0,370.0 562.0,370.3 564.0,370.6 566.0,370.9 568.0,371.2 570.0,371.5 572.0,371.8 574.0,372.0 576.0,372.3 578.0,372.6 580.0,372.9 582.0,373.2 584.0,373.5 586.0,373.7 588.0,374.0 590.0,374.3 592.0,375.5 594.0,376.7 596.0,377.9 598.0,379.1 600.0,379.1 602.0,374.9 604.0,364.8 606.0,366.1 608.0,367.4 610.0,368.8 612.0,370.1 614.0,371.1 616.0,371.4 618.0,371.6 620.0,371.9 622.0,372.2 624.0,372.4 626.0,372.7 628.0,373.0 630.0,373.3 632.0,373.5 634.0,373.8 636.0,374.2 638.0,374.5 640.0,374.8 642.0,375.2 644.0,375.5 646.0,375.9 648.0,376.2 650.0,376.6 652.0,376.9 654.0,377.2 656.0,377.6 658.0,378.0 660.0,378.4 662.0,378.8 664.0,379.3 666.0,379.7 668.0,380.1 670.0,380.6 672.0,381.0 674.0,381.4 676.0,381.8 678.0,382.3 680.0,382.7 682.0,383.5 684.0,384.2 686.0,385.0 688.0,385.8 690.0,386.5 692.0,387.3 694.0,387.7 694.0,409.7 692.0,409.3 690.0,408.5 688.0,407.8 686.0,407.0 684.0,406.2 682.0,405.5 680.0,404.7 678.0,404.3 676.0,403.8 674.0,403.4 672.0,403.0 670.0,402.6 668.0,402.1 666.0,401.7 664.0,401.3 662.0,400.8 660.0,400.4 658.0,400.0 656.0,399.6 654.0,399.2 652.0,398.9 650.0,398.6 648.0,398.2 646.0,397.9 644.0,397.5 642.0,397.2 640.0,396.8 638.0,396.5 636.0,396.2 634.0,395.8 632.0,395.5 630.0,395.3 628.0,395.0 626.0,394.7 624.0,394.4 622.0,394.2 620.0,393.9 618.0,393.6 616.0,393.4 614.0,393.1 612.0,392.1 610.0,390.8 608.0,389.4 606.0,388.1 604.0,386.8 602.0,396.9 600.0,401.1 598.0,401.1 596.0,399.9 594.0,398.7 592.0,397.5 590.0,396.3 588.0,396.0 586.0,395.7 584.0,395.5 582.0,395.2 580.0,394.9 578.0,394.6 576.0,394.3 574.0,394.0 572.0,393.8 570.0,393.5 568.0,393.2 566.0,392.9 564.0,392.6 562.0,392.3 560.0,392.0 558.0,391.7 556.0,391.4 554.0,391.1 552.0,390.8 550.0,390.5 548.0,390.2 546.0,389.9 544.0,389.6 542.0,389.3 540.0,389.0 538.0,388.7 536.0,388.4 534.0,388.1 532.0,387.9 530.0,387.8 528.0,387.6 526.0,387.5 524.0,387.3 522.0,387.2 520.0,387.0 518.0,386.9 516.0,386.7 514.0,386.6 512.0,386.4 510.0,386.3 508.0,386.0 506.0,384.0 504.0,383.3 502.0,382.8 500.0,382.5 498.0,382.1 496.0,381.8 494.0,381.5 492.0,381.1 490.0,380.8 488.0,380.5 486.0,380.1 484.0,379.8 482.0,379.5 480.0,379.2 478.0,378.9 476.0,378.5 474.0,378.2 472.0,377.9 470.0,377.6 468.0,377.3 466.0,377.0 464.0,376.6 462.0,376.3 460.0,376.0 458.0,375.6 456.0,375.3 454.0,374.9 452.0,374.5 450.0,374.1 448.0,373.8 446.0,373.4 444.0,373.0 442.0,372.7 440.0,372.3 438.0,371.9 436.0,371.6 434.0,371.2 432.0,371.2 430.0,371.6 428.0,371.9 426.0,372.3 424.0,372.7 422.0,373.0 420.0,373.4 418.0,373.5 416.0,372.3 414.0,363.8 412.0,360.4 410.0,359.7 408.0,359.2 406.0,358.7 404.0,358.3 402.0,357.8 400.0,357.3 398.0,356.8 396.0,356.3 394.0,355.9 392.0,355.2 390.0,354.5 388.0,353.8 386.0,353.1 384.0,352.3 382.0,351.6 380.0,350.9 378.0,350.2 376.0,349.4 374.0,348.4 372.0,347.4 370.0,346.4 368.0,345.4 366.0,344.4 364.0,343.4 362.0,342.1 360.0,340.7 358.0,339.3 356.0,337.9 354.0,336.5 352.0,335.0 350.0,333.4 348.0,331.8 346.0,330.2 344.0,328.6 342.0,326.4 340.0,323.9 338.0,321.3 336.0,318.3 334.0,314.2 332.0,310.1 330.0,306.0 328.0,298.1 326.0,281.3 324.0,258.8 322.0,267.6 320.0,279.2 318.0,290.0 316.0,296.4 314.0,302.8 312.0,308.0 310.0,312.0 308.0,316.0 306.0,319.3 304.0,321.9 302.0,324.5 300.0,327.1 298.0,329.7 296.0,331.9 294.0,333.7 292.0,335.5 290.0,337.3 288.0,339.1 286.0,340.7 284.0,342.1 282.0,343.5 280.0,344.9 278.0,346.2 276.0,347.6 274.0,349.0 272.0,350.2 270.0,351.1 268.0,352.0 266.0,352.9 264.0,353.8 262.0,354.7 260.0,355.6 258.0,356.5 256.0,357.3 254.0,357.9 252.0,358.5 250.0,359.1 248.0,359.6 246.0,360.2 244.0,360.8 242.0,361.4 240.0,362.0 238.0,362.6 236.0,363.2 234.0,363.8 232.0,364.5 230.0,365.1 228.0,365.7 226.0,366.2 224.0,366.6 222.0,366.9 220.0,367.3 218.0,367.7 216.0,368.0 214.0,368.4 212.0,368.8 210.0,369.1 208.0,369.5 206.0,369.9 204.0,370.4 202.0,370.9 200.0,371.3 198.0,371.8 196.0,372.3 194.0,372.8 192.0,373.2 190.0,373.7 188.0,374.2 186.0,374.7 184.0,375.2 182.0,375.7 180.0,376.2 178.0,376.7 176.0,377.2 174.0,377.7 172.0,378.0 170.0,378.0 168.0,378.0 166.0,378.0 164.0,378.0 162.0,378.0 160.0,378.0 158.0,377.7 156.0,377.5 154.0,377.2 152.0,376.9 150.0,376.7 148.0,376.4 146.0,376.1 144.0,376.0" fill="#101018" opacity="0.048"/>
<polygon points="144.0,354.0 146.0,354.1 148.0,354.4 150.0,354.7 152.0,354.9 154.0,355.2 156.0,355.5 158.0,355.7 160.0,356.0 162.0,356.0 164.0,356.0 166.0,356.0 168.0,356.0 170.0,356.0 172.0,356.0 174.0,355.7 176.0,355.2 178.0,354.7 180.0,354.2 182.0,353.7 184.0,353.2 186.0,352.7 188.0,352.2 190.0,351.7 192.0,351.2 194.0,350.8 196.0,350.3 198.0,349.8 200.0,349.3 202.0,348.9 204.0,348.4 206.0,347.9 208.0,347.5 210.0,347.1 212.0,346.8 214.0,346.4 216.0,346.0 218.0,345.7 220.0,345.3 222.0,344.9 224.0,344.6 226.0,344.2 228.0,343.7 230.0,343.1 232.0,342.5 234.0,341.8 236.0,341.2 238.0,340.6 240.0,340.0 242.0,339.4 244.0,338.8 246.0,338.2 248.0,337.6 250.0,337.1 252.0,336.5 254.0,335.9 256.0,335.3 258.0,334.5 260.0,333.6 262.0,332.7 264.0,331.8 266.0,330.9 268.0,330.0 270.0,329.1 272.0,328.2 274.0,327.0 276.0,325.6 278.0,324.2 280.0,322.9 282.0,321.5 284.0,320.1 286.0,318.7 288.0,317.1 290.0,315.3 292.0,313.5 294.0,311.7 296.0,309.9 298.0,307.7 300.0,305.1 302.0,302.5 304.0,299.9 306.0,297.3 308.0,294.0 310.0,290.0 312.0,286.0 314.0,280.8 316.0,274.4 318.0,268.0 320.0,257.2 322.0,245.6 324.0,236.8 326.0,259.3 328.0,276.1 330.0,284.0 332.0,288.1 334.0,292.2 336.0,296.3 338.0,299.3 340.0,301.9 342.0,304.4 344.0,306.6 346.0,308.2 348.0,309.8 350.0,311.4 352.0,313.0 354.0,314.5 356.0,315.9 358.0,317.3 360.0,318.7 362.0,320.1 364.0,321.4 366.0,322.4 368.0,323.4 370.0,324.4 372.0,325.4 374.0,326.4 376.0,327.4 378.0,328.2 380.0,328.9 382.0,329.6 384.0,330.3 386.0,331.1 388.0,331.8 390.0,332.5 392.0,333.2 394.0,333.9 396.0,334.3 398.0,334.8 400.0,335.3 402.0,335.8 404.0,336.3 406.0,336.7 408.0,337.2 410.0,337.7 412.0,338.4 414.0,341.8 416.0,350.3 418.0,351.5 420.0,351.4 422.0,351.0 424.0,350.7 426.0,350.3 428.0,349.9 430.0,349.6 432.0,349.2 434.0,349.2 436.0,349.6 438.0,349.9 440.0,350.3 442.0,350.7 444.0,351.0 446.0,351.4 448.0,351.8 450.0,352.1 452.0,352.5 454.0,352.9 456.0,353.3 458.0,353.6 460.0,354.0 462.0,354.3 464.0,354.6 466.0,355.0 468.0,355.3 470.0,355.6 472.0,355.9 474.0,356.2 476.0,356.5 478.0,356.9 480.0,357.2 482.0,357.5 484.0,357.8 486.0,358.1 488.0,358.5 490.0,358.8 492.0,359.1 494.0,359.5 496.0,359.8 498.0,360.1 500.0,360.5 502.0,360.8 504.0,361.3 506.0,362.0 508.0,364.0 510.0,364.3 512.0,364.4 514.0,364.6 516.0,364.7 518.0,364.9 520.0,365.0 522.0,365.2 524.0,365.3 526.0,365.5 528.0,365.6 530.0,365.8 532.0,365.9 534.0,366.1 536.0,366.4 538.0,366.7 540.0,367.0 542.0,367.3 544.0,367.6 546.0,367.9 548.0,368.2 550.0,368.5 552.0,368.8 554.0,369.1 556.0,369.4 558.0,369.7 560.0,370.0 562.0,370.3 564.0,370.6 566.0,370.9 568.0,371.2 570.0,371.5 572.0,371.8 574.0,372.0 576.0,372.3 578.0,372.6 580.0,372.9 582.0,373.2 584.0,373.5 586.0,373.7 588.0,374.0 590.0,374.3 592.0,375.5 594.0,376.7 596.0,377.9 598.0,379.1 600.0,379.1 602.0,374.9 604.0,364.8 606.0,366.1 608.0,367.4 610.0,368.8 612.0,370.1 614.0,371.1 616.0,371.4 618.0,371.6 620.0,371.9 622.0,372.2 624.0,372.4 626.0,372.7 628.0,373.0 630.0,373.3 632.0,373.5 634.0,373.8 636.0,374.2 638.0,374.5 640.0,374.8 642.0,375.2 644.0,375.5 646.0,375.9 648.0,376.2 650.0,376.6 652.0,376.9 654.0,377.2 656.0,377.6 658.0,378.0 660.0,378.4 662.0,378.8 664.0,379.3 666.0,379.7 668.0,380.1 670.0,380.6 672.0,381.0 674.0,381.4 676.0,381.8 678.0,382.3 680.0,382.7 682.0,383.5 684.0,384.2 686.0,385.0 688.0,385.8 690.0,386.5 692.0,387.3 694.0,387.7 694.0,420.7 692.0,420.3 690.0,419.5 688.0,418.8 686.0,418.0 684.0,417.2 682.0,416.5 680.0,415.7 678.0,415.3 676.0,414.8 674.0,414.4 672.0,414.0 670.0,413.6 668.0,413.1 666.0,412.7 664.0,412.3 662.0,411.8 660.0,411.4 658.0,411.0 656.0,410.6 654.0,410.2 652.0,409.9 650.0,409.6 648.0,409.2 646.0,408.9 644.0,408.5 642.0,408.2 640.0,407.8 638.0,407.5 636.0,407.2 634.0,406.8 632.0,406.5 630.0,406.3 628.0,406.0 626.0,405.7 624.0,405.4 622.0,405.2 620.0,404.9 618.0,404.6 616.0,404.4 614.0,404.1 612.0,403.1 610.0,401.8 608.0,400.4 606.0,399.1 604.0,397.8 602.0,407.9 600.0,412.1 598.0,412.1 596.0,410.9 594.0,409.7 592.0,408.5 590.0,407.3 588.0,407.0 586.0,406.7 584.0,406.5 582.0,406.2 580.0,405.9 578.0,405.6 576.0,405.3 574.0,405.0 572.0,404.8 570.0,404.5 568.0,404.2 566.0,403.9 564.0,403.6 562.0,403.3 560.0,403.0 558.0,402.7 556.0,402.4 554.0,402.1 552.0,401.8 550.0,401.5 548.0,401.2 546.0,400.9 544.0,400.6 542.0,400.3 540.0,400.0 538.0,399.7 536.0,399.4 534.0,399.1 532.0,398.9 530.0,398.8 528.0,398.6 526.0,398.5 524.0,398.3 522.0,398.2 520.0,398.0 518.0,397.9 516.0,397.7 514.0,397.6 512.0,397.4 510.0,397.3 508.0,397.0 506.0,395.0 504.0,394.3 502.0,393.8 500.0,393.5 498.0,393.1 496.0,392.8 494.0,392.5 492.0,392.1 490.0,391.8 488.0,391.5 486.0,391.1 484.0,390.8 482.0,390.5 480.0,390.2 478.0,389.9 476.0,389.5 474.0,389.2 472.0,388.9 470.0,388.6 468.0,388.3 466.0,388.0 464.0,387.6 462.0,387.3 460.0,387.0 458.0,386.6 456.0,386.3 454.0,385.9 452.0,385.5 450.0,385.1 448.0,384.8 446.0,384.4 444.0,384.0 442.0,383.7 440.0,383.3 438.0,382.9 436.0,382.6 434.0,382.2 432.0,382.2 430.0,382.6 428.0,382.9 426.0,383.3 424.0,383.7 422.0,384.0 420.0,384.4 418.0,384.5 416.0,383.3 414.0,374.8 412.0,371.4 410.0,370.7 408.0,370.2 406.0,369.7 404.0,369.3 402.0,368.8 400.0,368.3 398.0,367.8 396.0,367.3 394.0,366.9 392.0,366.2 390.0,365.5 388.0,364.8 386.0,364.1 384.0,363.3 382.0,362.6 380.0,361.9 378.0,361.2 376.0,360.4 374.0,359.4 372.0,358.4 370.0,357.4 368.0,356.4 366.0,355.4 364.0,354.4 362.0,353.1 360.0,351.7 358.0,350.3 356.0,348.9 354.0,347.5 352.0,346.0 350.0,344.4 348.0,342.8 346.0,341.2 344.0,339.6 342.0,337.4 340.0,334.9 338.0,332.3 336.0,329.3 334.0,325.2 332.0,321.1 330.0,317.0 328.0,309.1 326.0,292.3 324.0,269.8 322.0,278.6 320.0,290.2 318.0,301.0 316.0,307.4 314.0,313.8 312.0,319.0 310.0,323.0 308.0,327.0 306.0,330.3 304.0,332.9 302.0,335.5 300.0,338.1 298.0,340.7 296.0,342.9 294.0,344.7 292.0,346.5 290.0,348.3 288.0,350.1 286.0,351.7 284.0,353.1 282.0,354.5 280.0,355.9 278.0,357.2 276.0,358.6 274.0,360.0 272.0,361.2 270.0,362.1 268.0,363.0 266.0,363.9 264.0,364.8 262.0,365.7 260.0,366.6 258.0,367.5 256.0,368.3 254.0,368.9 252.0,369.5 250.0,370.1 248.0,370.6 246.0,371.2 244.0,371.8 242.0,372.4 240.0,373.0 238.0,373.6 236.0,374.2 234.0,374.8 232.0,375.5 230.0,376.1 228.0,376.7 226.0,377.2 224.0,377.6 222.0,377.9 220.0,378.3 218.0,378.7 216.0,379.0 214.0,379.4 212.0,379.8 210.0,380.1 208.0,380.5 206.0,380.9 204.0,381.4 202.0,381.9 200.0,382.3 198.0,382.8 196.0,383.3 194.0,383.8 192.0,384.2 190.0,384.7 188.0,385.2 186.0,385.7 184.0,386.2 182.0,386.7 180.0,387.2 178.0,387.7 176.0,388.2 174.0,388.7 172.0,389.0 170.0,389.0 168.0,389.0 166.0,389.0 164.0,389.0 162.0,389.0 160.0,389.0 158.0,388.7 156.0,388.5 154.0,388.2 152.0,387.9 150.0,387.7 148.0,387.4 146.0,387.1 144.0,387.0" fill="#101018" opacity="0.048"/>
<polygon points="144.0,354.0 146.0,354.1 148.0,354.4 150.0,354.7 152.0,354.9 154.0,355.2 156.0,355.5 158.0,355.7 160.0,356.0 162.0,356.0 164.0,356.0 166.0,356.0 168.0,356.0 170.0,356.0 172.0,356.0 174.0,355.7 176.0,355.2 178.0,354.7 180.0,354.2 182.0,353.7 184.0,353.2 186.0,352.7 188.0,352.2 190.0,351.7 192.0,351.2 194.0,350.8 196.0,350.3 198.0,349.8 200.0,349.3 202.0,348.9 204.0,348.4 206.0,347.9 208.0,347.5 210.0,347.1 212.0,346.8 214.0,346.4 216.0,346.0 218.0,345.7 220.0,345.3 222.0,344.9 224.0,344.6 226.0,344.2 228.0,343.7 230.0,343.1 232.0,342.5 234.0,341.8 236.0,341.2 238.0,340.6 240.0,340.0 242.0,339.4 244.0,338.8 246.0,338.2 248.0,337.6 250.0,337.1 252.0,336.5 254.0,335.9 256.0,335.3 258.0,334.5 260.0,333.6 262.0,332.7 264.0,331.8 266.0,330.9 268.0,330.0 270.0,329.1 272.0,328.2 274.0,327.0 276.0,325.6 278.0,324.2 280.0,322.9 282.0,321.5 284.0,320.1 286.0,318.7 288.0,317.1 290.0,315.3 292.0,313.5 294.0,311.7 296.0,309.9 298.0,307.7 300.0,305.1 302.0,302.5 304.0,299.9 306.0,297.3 308.0,294.0 310.0,290.0 312.0,286.0 314.0,280.8 316.0,274.4 318.0,268.0 320.0,257.2 322.0,245.6 324.0,236.8 326.0,259.3 328.0,276.1 330.0,284.0 332.0,288.1 334.0,292.2 336.0,296.3 338.0,299.3 340.0,301.9 342.0,304.4 344.0,306.6 346.0,308.2 348.0,309.8 350.0,311.4 352.0,313.0 354.0,314.5 356.0,315.9 358.0,317.3 360.0,318.7 362.0,320.1 364.0,321.4 366.0,322.4 368.0,323.4 370.0,324.4 372.0,325.4 374.0,326.4 376.0,327.4 378.0,328.2 380.0,328.9 382.0,329.6 384.0,330.3 386.0,331.1 388.0,331.8 390.0,332.5 392.0,333.2 394.0,333.9 396.0,334.3 398.0,334.8 400.0,335.3 402.0,335.8 404.0,336.3 406.0,336.7 408.0,337.2 410.0,337.7 412.0,338.4 414.0,341.8 416.0,350.3 418.0,351.5 420.0,351.4 422.0,351.0 424.0,350.7 426.0,350.3 428.0,349.9 430.0,349.6 432.0,349.2 434.0,349.2 436.0,349.6 438.0,349.9 440.0,350.3 442.0,350.7 444.0,351.0 446.0,351.4 448.0,351.8 450.0,352.1 452.0,352.5 454.0,352.9 456.0,353.3 458.0,353.6 460.0,354.0 462.0,354.3 464.0,354.6 466.0,355.0 468.0,355.3 470.0,355.6 472.0,355.9 474.0,356.2 476.0,356.5 478.0,356.9 480.0,357.2 482.0,357.5 484.0,357.8 486.0,358.1 488.0,358.5 490.0,358.8 492.0,359.1 494.0,359.5 496.0,359.8 498.0,360.1 500.0,360.5 502.0,360.8 504.0,361.3 506.0,362.0 508.0,364.0 510.0,364.3 512.0,364.4 514.0,364.6 516.0,364.7 518.0,364.9 520.0,365.0 522.0,365.2 524.0,365.3 526.0,365.5 528.0,365.6 530.0,365.8 532.0,365.9 534.0,366.1 536.0,366.4 538.0,366.7 540.0,367.0 542.0,367.3 544.0,367.6 546.0,367.9 548.0,368.2 550.0,368.5 552.0,368.8 554.0,369.1 556.0,369.4 558.0,369.7 560.0,370.0 562.0,370.3 564.0,370.6 566.0,370.9 568.0,371.2 570.0,371.5 572.0,371.8 574.0,372.0 576.0,372.3 578.0,372.6 580.0,372.9 582.0,373.2 584.0,373.5 586.0,373.7 588.0,374.0 590.0,374.3 592.0,375.5 594.0,376.7 596.0,377.9 598.0,379.1 600.0,379.1 602.0,374.9 604.0,364.8 606.0,366.1 608.0,367.4 610.0,368.8 612.0,370.1 614.0,371.1 616.0,371.4 618.0,371.6 620.0,371.9 622.0,372.2 624.0,372.4 626.0,372.7 628.0,373.0 630.0,373.3 632.0,373.5 634.0,373.8 636.0,374.2 638.0,374.5 640.0,374.8 642.0,375.2 644.0,375.5 646.0,375.9 648.0,376.2 650.0,376.6 652.0,376.9 654.0,377.2 656.0,377.6 658.0,378.0 660.0,378.4 662.0,378.8 664.0,379.3 666.0,379.7 668.0,380.1 670.0,380.6 672.0,381.0 674.0,381.4 676.0,381.8 678.0,382.3 680.0,382.7 682.0,383.5 684.0,384.2 686.0,385.0 688.0,385.8 690.0,386.5 692.0,387.3 694.0,387.7 694.0,431.7 692.0,431.3 690.0,430.5 688.0,429.8 686.0,429.0 684.0,428.2 682.0,427.5 680.0,426.7 678.0,426.3 676.0,425.8 674.0,425.4 672.0,425.0 670.0,424.6 668.0,424.1 666.0,423.7 664.0,423.3 662.0,422.8 660.0,422.4 658.0,422.0 656.0,421.6 654.0,421.2 652.0,420.9 650.0,420.6 648.0,420.2 646.0,419.9 644.0,419.5 642.0,419.2 640.0,418.8 638.0,418.5 636.0,418.2 634.0,417.8 632.0,417.5 630.0,417.3 628.0,417.0 626.0,416.7 624.0,416.4 622.0,416.2 620.0,415.9 618.0,415.6 616.0,415.4 614.0,415.1 612.0,414.1 610.0,412.8 608.0,411.4 606.0,410.1 604.0,408.8 602.0,418.9 600.0,423.1 598.0,423.1 596.0,421.9 594.0,420.7 592.0,419.5 590.0,418.3 588.0,418.0 586.0,417.7 584.0,417.5 582.0,417.2 580.0,416.9 578.0,416.6 576.0,416.3 574.0,416.0 572.0,415.8 570.0,415.5 568.0,415.2 566.0,414.9 564.0,414.6 562.0,414.3 560.0,414.0 558.0,413.7 556.0,413.4 554.0,413.1 552.0,412.8 550.0,412.5 548.0,412.2 546.0,411.9 544.0,411.6 542.0,411.3 540.0,411.0 538.0,410.7 536.0,410.4 534.0,410.1 532.0,409.9 530.0,409.8 528.0,409.6 526.0,409.5 524.0,409.3 522.0,409.2 520.0,409.0 518.0,408.9 516.0,408.7 514.0,408.6 512.0,408.4 510.0,408.3 508.0,408.0 506.0,406.0 504.0,405.3 502.0,404.8 500.0,404.5 498.0,404.1 496.0,403.8 494.0,403.5 492.0,403.1 490.0,402.8 488.0,402.5 486.0,402.1 484.0,401.8 482.0,401.5 480.0,401.2 478.0,400.9 476.0,400.5 474.0,400.2 472.0,399.9 470.0,399.6 468.0,399.3 466.0,399.0 464.0,398.6 462.0,398.3 460.0,398.0 458.0,397.6 456.0,397.3 454.0,396.9 452.0,396.5 450.0,396.1 448.0,395.8 446.0,395.4 444.0,395.0 442.0,394.7 440.0,394.3 438.0,393.9 436.0,393.6 434.0,393.2 432.0,393.2 430.0,393.6 428.0,393.9 426.0,394.3 424.0,394.7 422.0,395.0 420.0,395.4 418.0,395.5 416.0,394.3 414.0,385.8 412.0,382.4 410.0,381.7 408.0,381.2 406.0,380.7 404.0,380.3 402.0,379.8 400.0,379.3 398.0,378.8 396.0,378.3 394.0,377.9 392.0,377.2 390.0,376.5 388.0,375.8 386.0,375.1 384.0,374.3 382.0,373.6 380.0,372.9 378.0,372.2 376.0,371.4 374.0,370.4 372.0,369.4 370.0,368.4 368.0,367.4 366.0,366.4 364.0,365.4 362.0,364.1 360.0,362.7 358.0,361.3 356.0,359.9 354.0,358.5 352.0,357.0 350.0,355.4 348.0,353.8 346.0,352.2 344.0,350.6 342.0,348.4 340.0,345.9 338.0,343.3 336.0,340.3 334.0,336.2 332.0,332.1 330.0,328.0 328.0,320.1 326.0,303.3 324.0,280.8 322.0,289.6 320.0,301.2 318.0,312.0 316.0,318.4 314.0,324.8 312.0,330.0 310.0,334.0 308.0,338.0 306.0,341.3 304.0,343.9 302.0,346.5 300.0,349.1 298.0,351.7 296.0,353.9 294.0,355.7 292.0,357.5 290.0,359.3 288.0,361.1 286.0,362.7 284.0,364.1 282.0,365.5 280.0,366.9 278.0,368.2 276.0,369.6 274.0,371.0 272.0,372.2 270.0,373.1 268.0,374.0 266.0,374.9 264.0,375.8 262.0,376.7 260.0,377.6 258.0,378.5 256.0,379.3 254.0,379.9 252.0,380.5 250.0,381.1 248.0,381.6 246.0,382.2 244.0,382.8 242.0,383.4 240.0,384.0 238.0,384.6 236.0,385.2 234.0,385.8 232.0,386.5 230.0,387.1 228.0,387.7 226.0,388.2 224.0,388.6 222.0,388.9 220.0,389.3 218.0,389.7 216.0,390.0 214.0,390.4 212.0,390.8 210.0,391.1 208.0,391.5 206.0,391.9 204.0,392.4 202.0,392.9 200.0,393.3 198.0,393.8 196.0,394.3 194.0,394.8 192.0,395.2 190.0,395.7 188.0,396.2 186.0,396.7 184.0,397.2 182.0,397.7 180.0,398.2 178.0,398.7 176.0,399.2 174.0,399.7 172.0,400.0 170.0,400.0 168.0,400.0 166.0,400.0 164.0,400.0 162.0,400.0 160.0,400.0 158.0,399.7 156.0,399.5 154.0,399.2 152.0,398.9 150.0,398.7 148.0,398.4 146.0,398.1 144.0,398.0" fill="#101018" opacity="0.048"/>
<polygon points="144.0,354.0 146.0,354.1 148.0,354.4 150.0,354.7 152.0,354.9 154.0,355.2 156.0,355.5 158.0,355.7 160.0,356.0 162.0,356.0 164.0,356.0 166.0,356.0 168.0,356.0 170.0,356.0 172.0,356.0 174.0,355.7 176.0,355.2 178.0,354.7 180.0,354.2 182.0,353.7 184.0,353.2 186.0,352.7 188.0,352.2 190.0,351.7 192.0,351.2 194.0,350.8 196.0,350.3 198.0,349.8 200.0,349.3 202.0,348.9 204.0,348.4 206.0,347.9 208.0,347.5 210.0,347.1 212.0,346.8 214.0,346.4 216.0,346.0 218.0,345.7 220.0,345.3 222.0,344.9 224.0,344.6 226.0,344.2 228.0,343.7 230.0,343.1 232.0,342.5 234.0,341.8 236.0,341.2 238.0,340.6 240.0,340.0 242.0,339.4 244.0,338.8 246.0,338.2 248.0,337.6 250.0,337.1 252.0,336.5 254.0,335.9 256.0,335.3 258.0,334.5 260.0,333.6 262.0,332.7 264.0,331.8 266.0,330.9 268.0,330.0 270.0,329.1 272.0,328.2 274.0,327.0 276.0,325.6 278.0,324.2 280.0,322.9 282.0,321.5 284.0,320.1 286.0,318.7 288.0,317.1 290.0,315.3 292.0,313.5 294.0,311.7 296.0,309.9 298.0,307.7 300.0,305.1 302.0,302.5 304.0,299.9 306.0,297.3 308.0,294.0 310.0,290.0 312.0,286.0 314.0,280.8 316.0,274.4 318.0,268.0 320.0,257.2 322.0,245.6 324.0,236.8 326.0,259.3 328.0,276.1 330.0,284.0 332.0,288.1 334.0,292.2 336.0,296.3 338.0,299.3 340.0,301.9 342.0,304.4 344.0,306.6 346.0,308.2 348.0,309.8 350.0,311.4 352.0,313.0 354.0,314.5 356.0,315.9 358.0,317.3 360.0,318.7 362.0,320.1 364.0,321.4 366.0,322.4 368.0,323.4 370.0,324.4 372.0,325.4 374.0,326.4 376.0,327.4 378.0,328.2 380.0,328.9 382.0,329.6 384.0,330.3 386.0,331.1 388.0,331.8 390.0,332.5 392.0,333.2 394.0,333.9 396.0,334.3 398.0,334.8 400.0,335.3 402.0,335.8 404.0,336.3 406.0,336.7 408.0,337.2 410.0,337.7 412.0,338.4 414.0,341.8 416.0,350.3 418.0,351.5 420.0,351.4 422.0,351.0 424.0,350.7 426.0,350.3 428.0,349.9 430.0,349.6 432.0,349.2 434.0,349.2 436.0,349.6 438.0,349.9 440.0,350.3 442.0,350.7 444.0,351.0 446.0,351.4 448.0,351.8 450.0,352.1 452.0,352.5 454.0,352.9 456.0,353.3 458.0,353.6 460.0,354.0 462.0,354.3 464.0,354.6 466.0,355.0 468.0,355.3 470.0,355.6 472.0,355.9 474.0,356.2 476.0,356.5 478.0,356.9 480.0,357.2 482.0,357.5 484.0,357.8 486.0,358.1 488.0,358.5 490.0,358.8 492.0,359.1 494.0,359.5 496.0,359.8 498.0,360.1 500.0,360.5 502.0,360.8 504.0,361.3 506.0,362.0 508.0,364.0 510.0,364.3 512.0,364.4 514.0,364.6 516.0,364.7 518.0,364.9 520.0,365.0 522.0,365.2 524.0,365.3 526.0,365.5 528.0,365.6 530.0,365.8 532.0,365.9 534.0,366.1 536.0,366.4 538.0,366.7 540.0,367.0 542.0,367.3 544.0,367.6 546.0,367.9 548.0,368.2 550.0,368.5 552.0,368.8 554.0,369.1 556.0,369.4 558.0,369.7 560.0,370.0 562.0,370.3 564.0,370.6 566.0,370.9 568.0,371.2 570.0,371.5 572.0,371.8 574.0,372.0 576.0,372.3 578.0,372.6 580.0,372.9 582.0,373.2 584.0,373.5 586.0,373.7 588.0,374.0 590.0,374.3 592.0,375.5 594.0,376.7 596.0,377.9 598.0,379.1 600.0,379.1 602.0,374.9 604.0,364.8 606.0,366.1 608.0,367.4 610.0,368.8 612.0,370.1 614.0,371.1 616.0,371.4 618.0,371.6 620.0,371.9 622.0,372.2 624.0,372.4 626.0,372.7 628.0,373.0 630.0,373.3 632.0,373.5 634.0,373.8 636.0,374.2 638.0,374.5 640.0,374.8 642.0,375.2 644.0,375.5 646.0,375.9 648.0,376.2 650.0,376.6 652.0,376.9 654.0,377.2 656.0,377.6 658.0,378.0 660.0,378.4 662.0,378.8 664.0,379.3 666.0,379.7 668.0,380.1 670.0,380.6 672.0,381.0 674.0,381.4 676.0,381.8 678.0,382.3 680.0,382.7 682.0,383.5 684.0,384.2 686.0,385.0 688.0,385.8 690.0,386.5 692.0,387.3 694.0,387.7 694.0,436.0 692.0,436.0 690.0,436.0 688.0,436.0 686.0,436.0 684.0,436.0 682.0,436.0 680.0,436.0 678.0,436.0 676.0,436.0 674.0,436.0 672.0,436.0 670.0,435.6 668.0,435.1 666.0,434.7 664.0,434.3 662.0,433.8 660.0,433.4 658.0,433.0 656.0,432.6 654.0,432.2 652.0,431.9 650.0,431.6 648.0,431.2 646.0,430.9 644.0,430.5 642.0,430.2 640.0,429.8 638.0,429.5 636.0,429.2 634.0,428.8 632.0,428.5 630.0,428.3 628.0,428.0 626.0,427.7 624.0,427.4 622.0,427.2 620.0,426.9 618.0,426.6 616.0,426.4 614.0,426.1 612.0,425.1 610.0,423.8 608.0,422.4 606.0,421.1 604.0,419.8 602.0,429.9 600.0,434.1 598.0,434.1 596.0,432.9 594.0,431.7 592.0,430.5 590.0,429.3 588.0,429.0 586.0,428.7 584.0,428.5 582.0,428.2 580.0,427.9 578.0,427.6 576.0,427.3 574.0,427.0 572.0,426.8 570.0,426.5 568.0,426.2 566.0,425.9 564.0,425.6 562.0,425.3 560.0,425.0 558.0,424.7 556.0,424.4 554.0,424.1 552.0,423.8 550.0,423.5 548.0,423.2 546.0,422.9 544.0,422.6 542.0,422.3 540.0,422.0 538.0,421.7 536.0,421.4 534.0,421.1 532.0,420.9 530.0,420.8 528.0,420.6 526.0,420.5 524.0,420.3 522.0,420.2 520.0,420.0 518.0,419.9 516.0,419.7 514.0,419.6 512.0,419.4 510.0,419.3 508.0,419.0 506.0,417.0 504.0,416.3 502.0,415.8 500.0,415.5 498.0,415.1 496.0,414.8 494.0,414.5 492.0,414.1 490.0,413.8 488.0,413.5 486.0,413.1 484.0,412.8 482.0,412.5 480.0,412.2 478.0,411.9 476.0,411.5 474.0,411.2 472.0,410.9 470.0,410.6 468.0,410.3 466.0,410.0 464.0,409.6 462.0,409.3 460.0,409.0 458.0,408.6 456.0,408.3 454.0,407.9 452.0,407.5 450.0,407.1 448.0,406.8 446.0,406.4 444.0,406.0 442.0,405.7 440.0,405.3 438.0,404.9 436.0,404.6 434.0,404.2 432.0,404.2 430.0,404.6 428.0,404.9 426.0,405.3 424.0,405.7 422.0,406.0 420.0,406.4 418.0,406.5 416.0,405.3 414.0,396.8 412.0,393.4 410.0,392.7 408.0,392.2 406.0,391.7 404.0,391.3 402.0,390.8 400.0,390.3 398.0,389.8 396.0,389.3 394.0,388.9 392.0,388.2 390.0,387.5 388.0,386.8 386.0,386.1 384.0,385.3 382.0,384.6 380.0,383.9 378.0,383.2 376.0,382.4 374.0,381.4 372.0,380.4 370.0,379.4 368.0,378.4 366.0,377.4 364.0,376.4 362.0,375.1 360.0,373.7 358.0,372.3 356.0,370.9 354.0,369.5 352.0,368.0 350.0,366.4 348.0,364.8 346.0,363.2 344.0,361.6 342.0,359.4 340.0,356.9 338.0,354.3 336.0,351.3 334.0,347.2 332.0,343.1 330.0,339.0 328.0,331.1 326.0,314.3 324.0,291.8 322.0,300.6 320.0,312.2 318.0,323.0 316.0,329.4 314.0,335.8 312.0,341.0 310.0,345.0 308.0,349.0 306.0,352.3 304.0,354.9 302.0,357.5 300.0,360.1 298.0,362.7 296.0,364.9 294.0,366.7 292.0,368.5 290.0,370.3 288.0,372.1 286.0,373.7 284.0,375.1 282.0,376.5 280.0,377.9 278.0,379.2 276.0,380.6 274.0,382.0 272.0,383.2 270.0,384.1 268.0,385.0 266.0,385.9 264.0,386.8 262.0,387.7 260.0,388.6 258.0,389.5 256.0,390.3 254.0,390.9 252.0,391.5 250.0,392.1 248.0,392.6 246.0,393.2 244.0,393.8 242.0,394.4 240.0,395.0 238.0,395.6 236.0,396.2 234.0,396.8 232.0,397.5 230.0,398.1 228.0,398.7 226.0,399.2 224.0,399.6 222.0,399.9 220.0,400.3 218.0,400.7 216.0,401.0 214.0,401.4 212.0,401.8 210.0,402.1 208.0,402.5 206.0,402.9 204.0,403.4 202.0,403.9 200.0,404.3 198.0,404.8 196.0,405.3 194.0,405.8 192.0,406.2 190.0,406.7 188.0,407.2 186.0,407.7 184.0,408.2 182.0,408.7 180.0,409.2 178.0,409.7 176.0,410.2 174.0,410.7 172.0,411.0 170.0,411.0 168.0,411.0 166.0,411.0 164.0,411.0 162.0,411.0 160.0,411.0 158.0,410.7 156.0,410.5 154.0,410.2 152.0,409.9 150.0,409.7 148.0,409.4 146.0,409.1 144.0,409.0" fill="#101018" opacity="0.048"/>
<polygon points="144.0,354.0 146.0,354.1 148.0,354.4 150.0,354.7 152.0,354.9 154.0,355.2 156.0,355.5 158.0,355.7 160.0,356.0 162.0,356.0 164.0,356.0 166.0,356.0 168.0,356.0 170.0,356.0 172.0,356.0 174.0,355.7 176.0,355.2 178.0,354.7 180.0,354.2 182.0,353.7 184.0,353.2 186.0,352.7 188.0,352.2 190.0,351.7 192.0,351.2 194.0,350.8 196.0,350.3 198.0,349.8 200.0,349.3 202.0,348.9 204.0,348.4 206.0,347.9 208.0,347.5 210.0,347.1 212.0,346.8 214.0,346.4 216.0,346.0 218.0,345.7 220.0,345.3 222.0,344.9 224.0,344.6 226.0,344.2 228.0,343.7 230.0,343.1 232.0,342.5 234.0,341.8 236.0,341.2 238.0,340.6 240.0,340.0 242.0,339.4 244.0,338.8 246.0,338.2 248.0,337.6 250.0,337.1 252.0,336.5 254.0,335.9 256.0,335.3 258.0,334.5 260.0,333.6 262.0,332.7 264.0,331.8 266.0,330.9 268.0,330.0 270.0,329.1 272.0,328.2 274.0,327.0 276.0,325.6 278.0,324.2 280.0,322.9 282.0,321.5 284.0,320.1 286.0,318.7 288.0,317.1 290.0,315.3 292.0,313.5 294.0,311.7 296.0,309.9 298.0,307.7 300.0,305.1 302.0,302.5 304.0,299.9 306.0,297.3 308.0,294.0 310.0,290.0 312.0,286.0 314.0,280.8 316.0,274.4 318.0,268.0 320.0,257.2 322.0,245.6 324.0,236.8 326.0,259.3 328.0,276.1 330.0,284.0 332.0,288.1 334.0,292.2 336.0,296.3 338.0,299.3 340.0,301.9 342.0,304.4 344.0,306.6 346.0,308.2 348.0,309.8 350.0,311.4 352.0,313.0 354.0,314.5 356.0,315.9 358.0,317.3 360.0,318.7 362.0,320.1 364.0,321.4 366.0,322.4 368.0,323.4 370.0,324.4 372.0,325.4 374.0,326.4 376.0,327.4 378.0,328.2 380.0,328.9 382.0,329.6 384.0,330.3 386.0,331.1 388.0,331.8 390.0,332.5 392.0,333.2 394.0,333.9 396.0,334.3 398.0,334.8 400.0,335.3 402.0,335.8 404.0,336.3 406.0,336.7 408.0,337.2 410.0,337.7 412.0,338.4 414.0,341.8 416.0,350.3 418.0,351.5 420.0,351.4 422.0,351.0 424.0,350.7 426.0,350.3 428.0,349.9 430.0,349.6 432.0,349.2 434.0,349.2 436.0,349.6 438.0,349.9 440.0,350.3 442.0,350.7 444.0,351.0 446.0,351.4 448.0,351.8 450.0,352.1 452.0,352.5 454.0,352.9 456.0,353.3 458.0,353.6 460.0,354.0 462.0,354.3 464.0,354.6 466.0,355.0 468.0,355.3 470.0,355.6 472.0,355.9 474.0,356.2 476.0,356.5 478.0,356.9 480.0,357.2 482.0,357.5 484.0,357.8 486.0,358.1 488.0,358.5 490.0,358.8 492.0,359.1 494.0,359.5 496.0,359.8 498.0,360.1 500.0,360.5 502.0,360.8 504.0,361.3 506.0,362.0 508.0,364.0 510.0,364.3 512.0,364.4 514.0,364.6 516.0,364.7 518.0,364.9 520.0,365.0 522.0,365.2 524.0,365.3 526.0,365.5 528.0,365.6 530.0,365.8 532.0,365.9 534.0,366.1 536.0,366.4 538.0,366.7 540.0,367.0 542.0,367.3 544.0,367.6 546.0,367.9 548.0,368.2 550.0,368.5 552.0,368.8 554.0,369.1 556.0,369.4 558.0,369.7 560.0,370.0 562.0,370.3 564.0,370.6 566.0,370.9 568.0,371.2 570.0,371.5 572.0,371.8 574.0,372.0 576.0,372.3 578.0,372.6 580.0,372.9 582.0,373.2 584.0,373.5 586.0,373.7 588.0,374.0 590.0,374.3 592.0,375.5 594.0,376.7 596.0,377.9 598.0,379.1 600.0,379.1 602.0,374.9 604.0,364.8 606.0,366.1 608.0,367.4 610.0,368.8 612.0,370.1 614.0,371.1 616.0,371.4 618.0,371.6 620.0,371.9 622.0,372.2 624.0,372.4 626.0,372.7 628.0,373.0 630.0,373.3 632.0,373.5 634.0,373.8 636.0,374.2 638.0,374.5 640.0,374.8 642.0,375.2 644.0,375.5 646.0,375.9 648.0,376.2 650.0,376.6 652.0,376.9 654.0,377.2 656.0,377.6 658.0,378.0 660.0,378.4 662.0,378.8 664.0,379.3 666.0,379.7 668.0,380.1 670.0,380.6 672.0,381.0 674.0,381.4 676.0,381.8 678.0,382.3 680.0,382.7 682.0,383.5 684.0,384.2 686.0,385.0 688.0,385.8 690.0,386.5 692.0,387.3 694.0,387.7 694.0,436.0 692.0,436.0 690.0,436.0 688.0,436.0 686.0,436.0 684.0,436.0 682.0,436.0 680.0,436.0 678.0,436.0 676.0,436.0 674.0,436.0 672.0,436.0 670.0,436.0 668.0,436.0 666.0,436.0 664.0,436.0 662.0,436.0 660.0,436.0 658.0,436.0 656.0,436.0 654.0,436.0 652.0,436.0 650.0,436.0 648.0,436.0 646.0,436.0 644.0,436.0 642.0,436.0 640.0,436.0 638.0,436.0 636.0,436.0 634.0,436.0 632.0,436.0 630.0,436.0 628.0,436.0 626.0,436.0 624.0,436.0 622.0,436.0 620.0,436.0 618.0,436.0 616.0,436.0 614.0,436.0 612.0,436.0 610.0,434.8 608.0,433.4 606.0,432.1 604.0,430.8 602.0,436.0 600.0,436.0 598.0,436.0 596.0,436.0 594.0,436.0 592.0,436.0 590.0,436.0 588.0,436.0 586.0,436.0 584.0,436.0 582.0,436.0 580.0,436.0 578.0,436.0 576.0,436.0 574.0,436.0 572.0,436.0 570.0,436.0 568.0,436.0 566.0,436.0 564.0,436.0 562.0,436.0 560.0,436.0 558.0,435.7 556.0,435.4 554.0,435.1 552.0,434.8 550.0,434.5 548.0,434.2 546.0,433.9 544.0,433.6 542.0,433.3 540.0,433.0 538.0,432.7 536.0,432.4 534.0,432.1 532.0,431.9 530.0,431.8 528.0,431.6 526.0,431.5 524.0,431.3 522.0,431.2 520.0,431.0 518.0,430.9 516.0,430.7 514.0,430.6 512.0,430.4 510.0,430.3 508.0,430.0 506.0,428.0 504.0,427.3 502.0,426.8 500.0,426.5 498.0,426.1 496.0,425.8 494.0,425.5 492.0,425.1 490.0,424.8 488.0,424.5 486.0,424.1 484.0,423.8 482.0,423.5 480.0,423.2 478.0,422.9 476.0,422.5 474.0,422.2 472.0,421.9 470.0,421.6 468.0,421.3 466.0,421.0 464.0,420.6 462.0,420.3 460.0,420.0 458.0,419.6 456.0,419.3 454.0,418.9 452.0,418.5 450.0,418.1 448.0,417.8 446.0,417.4 444.0,417.0 442.0,416.7 440.0,416.3 438.0,415.9 436.0,415.6 434.0,415.2 432.0,415.2 430.0,415.6 428.0,415.9 426.0,416.3 424.0,416.7 422.0,417.0 420.0,417.4 418.0,417.5 416.0,416.3 414.0,407.8 412.0,404.4 410.0,403.7 408.0,403.2 406.0,402.7 404.0,402.3 402.0,401.8 400.0,401.3 398.0,400.8 396.0,400.3 394.0,399.9 392.0,399.2 390.0,398.5 388.0,397.8 386.0,397.1 384.0,396.3 382.0,395.6 380.0,394.9 378.0,394.2 376.0,393.4 374.0,392.4 372.0,391.4 370.0,390.4 368.0,389.4 366.0,388.4 364.0,387.4 362.0,386.1 360.0,384.7 358.0,383.3 356.0,381.9 354.0,380.5 352.0,379.0 350.0,377.4 348.0,375.8 346.0,374.2 344.0,372.6 342.0,370.4 340.0,367.9 338.0,365.3 336.0,362.3 334.0,358.2 332.0,354.1 330.0,350.0 328.0,342.1 326.0,325.3 324.0,301.3 322.0,311.6 320.0,323.2 318.0,334.0 316.0,340.4 314.0,346.8 312.0,352.0 310.0,356.0 308.0,360.0 306.0,363.3 304.0,365.9 302.0,368.5 300.0,371.1 298.0,373.7 296.0,375.9 294.0,377.7 292.0,379.5 290.0,381.3 288.0,383.1 286.0,384.7 284.0,386.1 282.0,387.5 280.0,388.9 278.0,390.2 276.0,391.6 274.0,393.0 272.0,394.2 270.0,395.1 268.0,396.0 266.0,396.9 264.0,397.8 262.0,398.7 260.0,399.6 258.0,400.5 256.0,401.3 254.0,401.9 252.0,402.5 250.0,403.1 248.0,403.6 246.0,404.2 244.0,404.8 242.0,405.4 240.0,406.0 238.0,406.6 236.0,407.2 234.0,407.8 232.0,408.5 230.0,409.1 228.0,409.7 226.0,410.2 224.0,410.6 222.0,410.9 220.0,411.3 218.0,411.7 216.0,412.0 214.0,412.4 212.0,412.8 210.0,413.1 208.0,413.5 206.0,413.9 204.0,414.4 202.0,414.9 200.0,415.3 198.0,415.8 196.0,416.3 194.0,416.8 192.0,417.2 190.0,417.7 188.0,418.2 186.0,418.7 184.0,419.2 182.0,419.7 180.0,420.2 178.0,420.7 176.0,421.2 174.0,421.7 172.0,422.0 170.0,422.0 168.0,422.0 166.0,422.0 164.0,422.0 162.0,422.0 160.0,422.0 158.0,421.7 156.0,421.5 154.0,421.2 152.0,420.9 150.0,420.7 148.0,420.4 146.0,420.1 144.0,420.0" fill="#101018" opacity="0.048"/>
<path d="M232.6 306.5V349.3" stroke="#4040b8" stroke-width="2" fill="none"/>
<path d="M414.3 293.5V350.4" stroke="#4040b8" stroke-width="2" fill="none"/>
<path d="M506.9 322V369.9" stroke="#4040b8" stroke-width="2" fill="none"/>
<path d="M602.9 321.7V374.6" stroke="#4040b8" stroke-width="2" fill="none"/>
<path d="M323.6 188V240.0" stroke="#4040b8" stroke-width="2" fill="none"/>
<path d="M322.2 200V251.1" stroke="#4040b8" stroke-width="2" fill="none"/>
<path d="M325.0 200V253.3" stroke="#4040b8" stroke-width="2" fill="none"/>
<rect x="203.0" y="375.0" width="1.4" height="104.6" fill="#eef"/>
<rect x="270.2" y="372.0" width="1.6" height="107.9" fill="#b8b8c4"/>
<rect x="383.6" y="360.0" width="2.0" height="120.3" fill="#fff"/>
<rect x="526.4" y="378.0" width="1.2" height="102.9" fill="#eef"/>
<rect x="484.5" y="408.0" width="1.0" height="72.7" fill="#eef"/>
<rect x="503.9" y="420.0" width="1.0" height="60.8" fill="#eef"/>
<rect x="407.5" y="402.0" width="1.0" height="78.4" fill="#eef"/>
<rect x="418.5" y="408.0" width="1.0" height="72.5" fill="#eef"/>
<rect x="662.9" y="380.0" width="2.2" height="101.4" fill="#fff"/>
<rect x="323.1" y="268.0" width="1.5" height="212.1" fill="#fff"/>
<rect x="559.5" y="440.0" width="1.0" height="41.0" fill="#eef"/>
<rect x="616.5" y="432.0" width="1.0" height="49.3" fill="#eef"/>
<rect x="624.5" y="420.0" width="1.0" height="61.3" fill="#eef"/>
<clipPath id="cr"><polygon points="143.0,139.0 144.0,357.0 145.0,357.0 146.0,357.1 147.0,357.3 148.0,357.4 149.0,357.5 150.0,357.7 151.0,357.8 152.0,357.9 153.0,358.1 154.0,358.2 155.0,358.3 156.0,358.5 157.0,358.6 158.0,358.7 159.0,358.9 160.0,359.0 161.0,359.0 162.0,359.0 163.0,359.0 164.0,359.0 165.0,359.0 166.0,359.0 167.0,359.0 168.0,359.0 169.0,359.0 170.0,359.0 171.0,359.0 172.0,359.0 173.0,359.0 174.0,358.7 175.0,358.5 176.0,358.2 177.0,358.0 178.0,357.7 179.0,357.5 180.0,357.2 181.0,357.0 182.0,356.7 183.0,356.5 184.0,356.2 185.0,356.0 186.0,355.7 187.0,355.5 188.0,355.2 189.0,355.0 190.0,354.7 191.0,354.5 192.0,354.2 193.0,354.0 194.0,353.8 195.0,353.5 196.0,353.3 197.0,353.1 198.0,352.8 199.0,352.6 200.0,352.3 201.0,352.1 202.0,351.9 203.0,351.6 204.0,351.4 205.0,351.2 206.0,350.9 207.0,350.7 208.0,350.5 209.0,350.3 210.0,350.1 211.0,350.0 212.0,349.8 213.0,349.6 214.0,349.4 215.0,349.2 216.0,349.0 217.0,348.9 218.0,348.7 219.0,348.5 220.0,348.3 221.0,348.1 222.0,347.9 223.0,347.7 224.0,347.6 225.0,347.4 226.0,347.2 227.0,347.0 228.0,346.7 229.0,346.4 230.0,346.1 231.0,345.8 232.0,345.5 233.0,345.2 234.0,344.8 235.0,344.5 236.0,344.2 237.0,343.9 238.0,343.6 239.0,343.3 240.0,343.0 241.0,342.7 242.0,342.4 243.0,342.1 244.0,341.8 245.0,341.5 246.0,341.2 247.0,340.9 248.0,340.6 249.0,340.4 250.0,340.1 251.0,339.8 252.0,339.5 253.0,339.2 254.0,338.9 255.0,338.6 256.0,338.3 257.0,338.0 258.0,337.5 259.0,337.1 260.0,336.6 261.0,336.2 262.0,335.7 263.0,335.3 264.0,334.8 265.0,334.4 266.0,333.9 267.0,333.4 268.0,333.0 269.0,332.5 270.0,332.1 271.0,331.6 272.0,331.2 273.0,330.7 274.0,330.0 275.0,329.3 276.0,328.6 277.0,327.9 278.0,327.2 279.0,326.5 280.0,325.9 281.0,325.2 282.0,324.5 283.0,323.8 284.0,323.1 285.0,322.4 286.0,321.7 287.0,321.0 288.0,320.1 289.0,319.2 290.0,318.3 291.0,317.4 292.0,316.5 293.0,315.6 294.0,314.7 295.0,313.8 296.0,312.9 297.0,312.0 298.0,310.7 299.0,309.4 300.0,308.1 301.0,306.8 302.0,305.5 303.0,304.2 304.0,302.9 305.0,301.6 306.0,300.3 307.0,299.0 308.0,297.0 309.0,295.0 310.0,293.0 311.0,291.0 312.0,289.0 313.0,287.0 314.0,283.8 315.0,280.6 316.0,277.4 317.0,274.2 318.0,271.0 319.0,265.6 320.0,260.2 321.0,254.8 322.0,248.6 323.0,240.7 324.0,239.8 325.0,249.3 326.0,262.3 327.0,275.2 328.0,279.1 329.0,283.1 330.0,287.0 331.0,289.0 332.0,291.1 333.0,293.1 334.0,295.2 335.0,297.2 336.0,299.3 337.0,301.1 338.0,302.3 339.0,303.6 340.0,304.9 341.0,306.1 342.0,307.4 343.0,308.6 344.0,309.6 345.0,310.4 346.0,311.2 347.0,312.0 348.0,312.8 349.0,313.6 350.0,314.4 351.0,315.2 352.0,316.0 353.0,316.8 354.0,317.5 355.0,318.2 356.0,318.9 357.0,319.6 358.0,320.3 359.0,321.0 360.0,321.7 361.0,322.4 362.0,323.1 363.0,323.8 364.0,324.4 365.0,324.9 366.0,325.4 367.0,325.9 368.0,326.4 369.0,326.9 370.0,327.4 371.0,327.9 372.0,328.4 373.0,328.9 374.0,329.4 375.0,329.9 376.0,330.4 377.0,330.8 378.0,331.2 379.0,331.5 380.0,331.9 381.0,332.3 382.0,332.6 383.0,333.0 384.0,333.3 385.0,333.7 386.0,334.1 387.0,334.4 388.0,334.8 389.0,335.1 390.0,335.5 391.0,335.9 392.0,336.2 393.0,336.6 394.0,336.9 395.0,337.1 396.0,337.3 397.0,337.6 398.0,337.8 399.0,338.1 400.0,338.3 401.0,338.5 402.0,338.8 403.0,339.0 404.0,339.3 405.0,339.5 406.0,339.7 407.0,340.0 408.0,340.2 409.0,340.5 410.0,340.7 411.0,341.1 412.0,341.4 413.0,341.8 414.0,344.8 415.0,350.2 416.0,353.3 417.0,353.9 418.0,354.5 419.0,354.6 420.0,354.4 421.0,354.2 422.0,354.0 423.0,353.8 424.0,353.7 425.0,353.5 426.0,353.3 427.0,353.1 428.0,352.9 429.0,352.7 430.0,352.6 431.0,352.4 432.0,352.2 433.0,352.0 434.0,352.2 435.0,352.4 436.0,352.6 437.0,352.7 438.0,352.9 439.0,353.1 440.0,353.3 441.0,353.5 442.0,353.7 443.0,353.9 444.0,354.0 445.0,354.2 446.0,354.4 447.0,354.6 448.0,354.8 449.0,355.0 450.0,355.1 451.0,355.3 452.0,355.5 453.0,355.7 454.0,355.9 455.0,356.1 456.0,356.3 457.0,356.4 458.0,356.6 459.0,356.8 460.0,357.0 461.0,357.2 462.0,357.3 463.0,357.5 464.0,357.6 465.0,357.8 466.0,358.0 467.0,358.1 468.0,358.3 469.0,358.4 470.0,358.6 471.0,358.7 472.0,358.9 473.0,359.1 474.0,359.2 475.0,359.4 476.0,359.5 477.0,359.7 478.0,359.9 479.0,360.0 480.0,360.2 481.0,360.3 482.0,360.5 483.0,360.7 484.0,360.8 485.0,361.0 486.0,361.1 487.0,361.3 488.0,361.5 489.0,361.6 490.0,361.8 491.0,362.0 492.0,362.1 493.0,362.3 494.0,362.5 495.0,362.6 496.0,362.8 497.0,363.0 498.0,363.1 499.0,363.3 500.0,363.5 501.0,363.6 502.0,363.8 503.0,364.0 504.0,364.3 505.0,364.6 506.0,365.0 507.0,366.0 508.0,367.0 509.0,367.1 510.0,367.3 511.0,367.4 512.0,367.4 513.0,367.5 514.0,367.6 515.0,367.7 516.0,367.7 517.0,367.8 518.0,367.9 519.0,368.0 520.0,368.0 521.0,368.1 522.0,368.2 523.0,368.2 524.0,368.3 525.0,368.4 526.0,368.5 527.0,368.5 528.0,368.6 529.0,368.7 530.0,368.8 531.0,368.8 532.0,368.9 533.0,369.0 534.0,369.1 535.0,369.3 536.0,369.4 537.0,369.6 538.0,369.7 539.0,369.9 540.0,370.0 541.0,370.2 542.0,370.3 543.0,370.5 544.0,370.6 545.0,370.8 546.0,370.9 547.0,371.1 548.0,371.2 549.0,371.4 550.0,371.5 551.0,371.6 552.0,371.8 553.0,371.9 554.0,372.1 555.0,372.2 556.0,372.4 557.0,372.5 558.0,372.7 559.0,372.8 560.0,373.0 561.0,373.1 562.0,373.3 563.0,373.4 564.0,373.6 565.0,373.7 566.0,373.9 567.0,374.0 568.0,374.2 569.0,374.3 570.0,374.5 571.0,374.6 572.0,374.8 573.0,374.9 574.0,375.0 575.0,375.2 576.0,375.3 577.0,375.5 578.0,375.6 579.0,375.7 580.0,375.9 581.0,376.0 582.0,376.2 583.0,376.3 584.0,376.5 585.0,376.6 586.0,376.7 587.0,376.9 588.0,377.0 589.0,377.2 590.0,377.3 591.0,377.9 592.0,378.5 593.0,379.1 594.0,379.7 595.0,380.3 596.0,380.9 597.0,381.5 598.0,382.1 599.0,382.2 600.0,382.1 601.0,382.0 602.0,377.9 603.0,369.7 604.0,367.8 605.0,368.4 606.0,369.1 607.0,369.8 608.0,370.4 609.0,371.1 610.0,371.8 611.0,372.5 612.0,373.1 613.0,373.8 614.0,374.1 615.0,374.2 616.0,374.4 617.0,374.5 618.0,374.6 619.0,374.8 620.0,374.9 621.0,375.0 622.0,375.2 623.0,375.3 624.0,375.4 625.0,375.6 626.0,375.7 627.0,375.8 628.0,376.0 629.0,376.1 630.0,376.3 631.0,376.4 632.0,376.5 633.0,376.7 634.0,376.8 635.0,377.0 636.0,377.2 637.0,377.3 638.0,377.5 639.0,377.7 640.0,377.8 641.0,378.0 642.0,378.2 643.0,378.4 644.0,378.5 645.0,378.7 646.0,378.9 647.0,379.0 648.0,379.2 649.0,379.4 650.0,379.6 651.0,379.7 652.0,379.9 653.0,380.1 654.0,380.2 655.0,380.4 656.0,380.6 657.0,380.8 658.0,381.0 659.0,381.2 660.0,381.4 661.0,381.6 662.0,381.8 663.0,382.1 664.0,382.3 665.0,382.5 666.0,382.7 667.0,382.9 668.0,383.1 669.0,383.3 670.0,383.6 671.0,383.8 672.0,384.0 673.0,384.2 674.0,384.4 675.0,384.6 676.0,384.8 677.0,385.1 678.0,385.3 679.0,385.5 680.0,385.7 681.0,386.1 682.0,386.5 683.0,386.9 684.0,387.2 685.0,387.6 686.0,388.0 687.0,388.4 688.0,388.8 689.0,389.2 690.0,389.5 691.0,389.9 692.0,390.3 693.0,390.7 694.0,390.7 694.9,139.0"/></clipPath>
<path d="M145.0 318.2L145.5 316.3L146.0 314.5L146.5 312.9L147.0 311.3L147.5 309.9L148.0 308.5L148.5 307.3L149.0 306.1L149.5 305.0L150.0 304.0L150.5 303.0L151.0 302.1L151.5 301.2L152.0 300.4L152.5 299.6L153.1 298.9L153.6 298.2L154.1 297.6L154.6 297.0L155.1 296.5L155.6 295.9L156.1 295.5L156.6 295.0L157.1 294.6L157.6 294.2L158.1 293.9L158.6 293.5L159.1 293.3L159.6 293.0L160.1 292.8L160.6 292.6L161.1 292.4L161.6 292.3L162.1 292.2L162.6 292.1L163.1 292.0L163.6 292.0L164.1 292.0L164.6 292.0L165.1 292.1L165.6 292.2L166.1 292.3L166.6 292.5L167.1 292.7L167.6 292.9L168.1 293.1L168.6 293.4L169.1 293.7L169.6 294.1L170.1 294.5L170.6 294.9L171.1 295.4L171.6 295.9L172.1 296.5L172.6 297.1L173.1 297.7L173.6 298.4L174.1 299.2L174.5 300.0L175.0 300.8L175.5 301.8L176.0 302.8L176.5 303.8L177.0 305.0L177.5 306.3L178.0 307.6L178.5 309.1L179.0 310.7L179.5 312.4L180.0 314.4L180.5 316.5L181.0 318.8L181.5 321.4L182.0 324.4L182.4 327.8L182.9 331.7L183.4 336.4L183.9 342.2L184.4 349.7L184.8 360.3L185.2 378.6L185.3 479.6L186.2 379.1L186.8 360.6L187.4 349.8L187.9 342.1L188.4 336.1L188.9 331.2L189.4 327.1L190.0 323.5L190.5 320.4L191.0 317.6L191.5 315.1L192.0 312.8L192.5 310.7L193.0 308.8L193.5 307.0L194.0 305.3L194.5 303.8L195.0 302.3L195.5 301.0L196.0 299.7L196.6 298.5L197.1 297.4L197.6 296.4L198.1 295.4L198.6 294.5L199.1 293.6L199.6 292.8L200.1 292.0L200.6 291.2L201.1 290.6L201.6 289.9L202.1 289.3L202.6 288.7L203.1 288.2L203.6 287.7L204.1 287.2L204.6 286.8L205.1 286.4L205.6 286.0L206.1 285.7L206.6 285.4L207.1 285.1L207.6 284.9L208.1 284.7L208.6 284.5L209.1 284.3L209.6 284.2L210.1 284.1L210.6 284.0L211.1 284.0L211.6 284.0L212.1 284.0L212.6 284.1L213.1 284.1L213.6 284.3L214.1 284.4L214.6 284.6L215.1 284.8L215.6 285.0L216.1 285.3L216.6 285.6L217.1 286.0L217.6 286.4L218.1 286.8L218.6 287.2L219.1 287.8L219.6 288.3L220.1 288.9L220.6 289.6L221.1 290.3L221.6 291.0L222.1 291.9L222.6 292.8L223.1 293.7L223.6 294.8L224.1 295.9L224.6 297.1L225.1 298.4L225.5 299.8L226.0 301.4L226.5 303.1L227.0 305.0L227.5 307.0L228.0 309.3L228.5 311.9L229.0 314.8L229.5 318.1L230.0 322.0L230.4 326.7L230.9 332.4L231.4 339.9L231.8 350.5L232.3 368.7L232.3 479.7L233.3 368.4L233.9 349.9L234.4 339.0L234.9 331.2L235.4 325.2L236.0 320.3L236.5 316.1L237.0 312.5L237.5 309.3L238.0 306.5L238.5 303.9L239.0 301.6L239.6 299.4L240.1 297.4L240.6 295.6L241.1 293.9L241.6 292.3L242.1 290.8L242.6 289.4L243.1 288.1L243.6 286.9L244.1 285.7L244.6 284.6L245.1 283.6L245.6 282.6L246.1 281.6L246.6 280.8L247.1 279.9L247.6 279.1L248.1 278.4L248.6 277.7L249.1 277.0L249.6 276.4L250.1 275.8L250.6 275.3L251.1 274.8L251.6 274.3L252.2 273.8L252.7 273.4L253.2 273.0L253.7 272.7L254.2 272.3L254.7 272.0L255.2 271.8L255.7 271.5L256.2 271.3L256.7 271.2L257.2 271.0L257.7 270.9L258.2 270.8L258.7 270.8L259.2 270.7L259.7 270.7L260.2 270.8L260.7 270.8L261.2 270.9L261.7 271.1L262.2 271.2L262.7 271.5L263.2 271.7L263.7 272.0L264.2 272.3L264.7 272.6L265.2 273.0L265.7 273.5L266.2 274.0L266.6 274.5L267.1 275.1L267.6 275.7L268.1 276.5L268.6 277.2L269.1 278.1L269.6 279.0L270.1 280.0L270.6 281.1L271.1 282.3L271.6 283.6L272.1 285.0L272.6 286.6L273.1 288.3L273.6 290.3L274.1 292.4L274.6 294.9L275.1 297.6L275.5 300.8L276.0 304.6L276.5 309.1L277.0 314.7L277.5 322.0L277.9 332.5L278.3 350.6L278.3 479.9L279.4 349.1L279.9 330.5L280.5 319.4L281.0 311.5L281.5 305.4L282.0 300.3L282.6 295.9L283.1 292.2L283.6 288.8L284.1 285.8L284.6 283.0L285.1 280.5L285.6 278.2L286.1 276.0L286.7 274.0L287.2 272.1L287.7 270.4L288.2 268.7L288.7 267.1L289.2 265.6L289.7 264.1L290.2 262.8L290.7 261.4L291.2 260.2L291.7 259.0L292.2 257.8L292.7 256.7L293.2 255.6L293.7 254.6L294.2 253.6L294.7 252.7L295.2 251.8L295.7 250.9L296.2 250.0L296.7 249.2L297.3 248.4L297.8 247.6L298.3 246.9L298.8 246.2L299.3 245.5L299.8 244.8L300.3 244.1L300.8 243.5L301.3 242.9L301.8 242.3L302.3 241.7L302.8 241.2L303.3 240.6L303.8 240.1L304.3 239.6L304.8 239.1L305.3 238.7L305.8 238.2L306.3 237.8L306.8 237.4L307.3 236.9L307.8 236.6L308.3 236.2L308.8 235.8L309.3 235.5L309.8 235.1L310.3 234.8L310.8 234.5L311.3 234.2L311.8 233.9L312.3 233.7L312.8 233.4L313.3 233.2L313.8 232.9L314.3 232.7L314.8 232.5L315.3 232.3L315.8 232.1L316.3 231.9L316.8 231.8L317.3 231.6L317.8 231.5L318.3 231.4L318.8 231.3L319.3 231.1L319.8 231.1L320.3 231.0L320.8 230.9L321.3 230.8L321.8 230.8L322.3 230.8L322.8 230.7L323.3 230.7L323.8 230.7L324.3 230.7L324.8 230.7L325.3 230.7L325.8 230.8L326.3 230.8L326.8 230.9L327.3 230.9L327.8 231.0L328.3 231.1L328.8 231.2L329.3 231.3L329.8 231.4L330.3 231.6L330.8 231.7L331.3 231.8L331.8 232.0L332.3 232.2L332.8 232.4L333.3 232.6L333.8 232.8L334.3 233.0L334.8 233.2L335.3 233.4L335.8 233.7L336.3 233.9L336.8 234.2L337.3 234.5L337.8 234.8L338.3 235.1L338.8 235.4L339.3 235.8L339.8 236.1L340.3 236.5L340.8 236.8L341.3 237.2L341.8 237.6L342.3 238.1L342.8 238.5L343.3 238.9L343.8 239.4L344.3 239.9L344.8 240.4L345.3 240.9L345.8 241.4L346.3 241.9L346.8 242.5L347.3 243.1L347.8 243.7L348.3 244.3L348.8 244.9L349.3 245.6L349.8 246.3L350.3 247.0L350.8 247.7L351.3 248.5L351.7 249.3L352.2 250.1L352.7 250.9L353.2 251.8L353.7 252.7L354.2 253.6L354.7 254.6L355.2 255.6L355.7 256.6L356.2 257.7L356.7 258.9L357.2 260.0L357.7 261.3L358.2 262.6L358.7 263.9L359.2 265.3L359.7 266.8L360.2 268.4L360.7 270.0L361.2 271.8L361.7 273.7L362.1 275.6L362.6 277.8L363.1 280.1L363.6 282.6L364.1 285.3L364.6 288.3L365.1 291.6L365.6 295.3L366.1 299.6L366.5 304.7L367.0 310.8L367.5 318.7L367.9 329.7L368.4 348.3L368.3 480.3L369.4 348.5L369.9 330.4L370.5 320.0L371.0 312.7L371.5 307.1L372.0 302.6L372.6 298.8L373.1 295.7L373.6 292.9L374.1 290.5L374.6 288.3L375.1 286.4L375.6 284.7L376.1 283.1L376.6 281.7L377.1 280.4L377.6 279.2L378.1 278.1L378.6 277.1L379.1 276.2L379.6 275.4L380.1 274.7L380.7 274.0L381.2 273.3L381.7 272.8L382.2 272.2L382.7 271.8L383.2 271.3L383.7 271.0L384.2 270.6L384.7 270.3L385.2 270.1L385.7 269.9L386.2 269.7L386.7 269.5L387.2 269.4L387.7 269.3L388.2 269.3L388.7 269.3L389.2 269.3L389.7 269.4L390.2 269.4L390.7 269.6L391.2 269.7L391.7 269.9L392.2 270.1L392.7 270.3L393.2 270.6L393.7 270.9L394.2 271.2L394.7 271.6L395.2 272.0L395.7 272.4L396.2 272.9L396.7 273.4L397.2 273.9L397.6 274.5L398.1 275.1L398.6 275.7L399.1 276.4L399.6 277.1L400.1 277.9L400.6 278.7L401.1 279.5L401.6 280.4L402.1 281.4L402.6 282.4L403.1 283.5L403.6 284.6L404.1 285.8L404.6 287.1L405.1 288.5L405.6 289.9L406.1 291.5L406.6 293.1L407.1 294.9L407.6 296.8L408.1 298.9L408.5 301.2L409.0 303.6L409.5 306.4L410.0 309.4L410.5 312.9L411.0 316.8L411.5 321.4L411.9 326.9L412.4 333.9L412.9 343.2L413.3 357.7L413.7 391.1L414.2 383.4L414.8 357.5L415.4 344.8L415.9 336.3L416.4 330.0L417.0 325.0L417.5 320.8L418.0 317.3L418.5 314.2L419.0 311.5L419.5 309.2L420.0 307.0L420.5 305.1L421.0 303.3L421.5 301.7L422.0 300.3L422.6 298.9L423.1 297.7L423.6 296.5L424.1 295.5L424.6 294.5L425.1 293.6L425.6 292.8L426.1 292.0L426.6 291.3L427.1 290.6L427.6 290.0L428.1 289.5L428.6 289.0L429.1 288.5L429.6 288.1L430.1 287.7L430.6 287.3L431.1 287.0L431.6 286.8L432.1 286.5L432.6 286.3L433.1 286.2L433.6 286.0L434.1 285.9L434.6 285.9L435.1 285.8L435.6 285.8L436.1 285.9L436.6 285.9L437.1 286.0L437.6 286.1L438.1 286.3L438.6 286.4L439.1 286.7L439.6 286.9L440.1 287.2L440.6 287.5L441.1 287.8L441.6 288.2L442.1 288.6L442.6 289.0L443.1 289.5L443.6 290.0L444.1 290.5L444.6 291.1L445.1 291.7L445.6 292.4L446.1 293.1L446.6 293.8L447.1 294.6L447.6 295.4L448.1 296.3L448.6 297.3L449.1 298.3L449.6 299.4L450.0 300.5L450.5 301.7L451.0 303.0L451.5 304.4L452.0 305.9L452.5 307.5L453.0 309.2L453.5 311.0L454.0 313.0L454.5 315.2L455.0 317.5L455.5 320.2L456.0 323.1L456.4 326.4L456.9 330.2L457.4 334.6L457.9 339.8L458.4 346.4L458.8 355.1L459.3 368.1L459.7 394.2L460.1 404.4L460.8 371.3L461.3 357.1L461.9 347.9L462.4 341.2L462.9 335.9L463.4 331.6L463.9 327.9L464.5 324.7L465.0 321.9L465.5 319.4L466.0 317.2L466.5 315.2L467.0 313.4L467.5 311.7L468.0 310.2L468.5 308.7L469.0 307.4L469.5 306.2L470.0 305.1L470.5 304.1L471.0 303.1L471.5 302.2L472.0 301.4L472.5 300.6L473.0 299.9L473.6 299.3L474.1 298.7L474.6 298.1L475.1 297.6L475.6 297.1L476.1 296.7L476.6 296.3L477.1 296.0L477.6 295.7L478.1 295.4L478.6 295.1L479.1 294.9L479.6 294.7L480.1 294.6L480.6 294.5L481.1 294.4L481.6 294.4L482.1 294.4L482.6 294.4L483.1 294.4L483.6 294.5L484.1 294.6L484.6 294.7L485.1 294.9L485.6 295.1L486.1 295.3L486.6 295.6L487.1 295.9L487.6 296.2L488.1 296.6L488.6 296.9L489.1 297.4L489.6 297.8L490.1 298.3L490.6 298.9L491.1 299.4L491.5 300.0L492.0 300.7L492.5 301.4L493.0 302.1L493.5 302.9L494.0 303.8L494.5 304.7L495.0 305.6L495.5 306.7L496.0 307.7L496.5 308.9L497.0 310.1L497.5 311.5L498.0 312.9L498.5 314.4L499.0 316.0L499.5 317.8L500.0 319.7L500.5 321.7L501.0 324.0L501.4 326.5L501.9 329.3L502.4 332.4L502.9 335.9L503.4 340.0L503.9 344.9L504.4 350.8L504.8 358.5L505.3 369.3L505.7 387.8L505.8 480.8L506.7 388.6L507.3 370.3L507.8 359.7L508.3 352.1L508.9 346.3L509.4 341.6L509.9 337.6L510.4 334.2L510.9 331.3L511.4 328.6L511.9 326.3L512.5 324.1L513.0 322.2L513.5 320.4L514.0 318.8L514.5 317.3L515.0 315.9L515.5 314.7L516.0 313.5L516.5 312.4L517.0 311.3L517.5 310.4L518.0 309.5L518.5 308.7L519.0 307.9L519.5 307.2L520.0 306.5L520.5 305.9L521.0 305.3L521.5 304.8L522.0 304.3L522.5 303.8L523.0 303.4L523.5 303.0L524.0 302.7L524.5 302.4L525.0 302.1L525.5 301.8L526.0 301.6L526.5 301.4L527.0 301.3L527.5 301.2L528.0 301.1L528.5 301.0L529.0 301.0L529.5 301.0L530.0 301.0L530.5 301.0L531.0 301.1L531.5 301.2L532.0 301.3L532.5 301.5L533.0 301.7L533.5 301.9L534.0 302.2L534.5 302.4L535.0 302.8L535.5 303.1L536.0 303.5L536.5 303.9L537.0 304.3L537.5 304.8L538.0 305.3L538.5 305.8L539.0 306.4L539.5 307.0L540.0 307.7L540.5 308.4L541.0 309.2L541.5 310.0L542.0 310.8L542.5 311.7L543.0 312.7L543.5 313.7L544.0 314.8L544.5 315.9L545.0 317.2L545.5 318.5L546.0 319.9L546.5 321.4L547.0 323.0L547.5 324.8L547.9 326.7L548.4 328.7L548.9 331.0L549.4 333.5L549.9 336.2L550.4 339.3L550.9 342.9L551.4 346.9L551.8 351.8L552.3 357.7L552.8 365.4L553.3 376.2L553.7 394.6L553.8 481.0L554.7 395.6L555.2 377.2L555.8 366.6L556.3 359.0L556.8 353.2L557.4 348.5L557.9 344.5L558.4 341.1L558.9 338.1L559.4 335.4L559.9 333.1L560.4 330.9L560.9 329.0L561.4 327.2L561.9 325.6L562.5 324.1L563.0 322.7L563.5 321.4L564.0 320.2L564.5 319.1L565.0 318.1L565.5 317.1L566.0 316.2L566.5 315.4L567.0 314.6L567.5 313.8L568.0 313.2L568.5 312.5L569.0 312.0L569.5 311.4L570.0 310.9L570.5 310.5L571.0 310.0L571.5 309.7L572.0 309.3L572.5 309.0L573.0 308.7L573.5 308.5L574.0 308.2L574.5 308.1L575.0 307.9L575.5 307.8L576.0 307.7L576.5 307.6L577.0 307.6L577.5 307.6L578.0 307.6L578.5 307.7L579.0 307.7L579.5 307.9L580.0 308.0L580.5 308.2L581.0 308.4L581.5 308.6L582.0 308.9L582.5 309.1L583.0 309.5L583.5 309.8L584.0 310.2L584.5 310.6L585.0 311.1L585.5 311.6L586.0 312.1L586.5 312.7L587.0 313.3L587.5 313.9L588.0 314.6L588.5 315.3L589.0 316.1L589.5 316.9L590.0 317.8L590.5 318.8L591.0 319.8L591.5 320.9L592.0 322.0L592.5 323.2L593.0 324.5L593.4 325.9L593.9 327.4L594.4 329.0L594.9 330.7L595.4 332.6L595.9 334.7L596.4 336.9L596.9 339.4L597.4 342.2L597.9 345.3L598.4 348.8L598.8 352.9L599.3 357.7L599.8 363.6L600.3 371.3L600.7 382.1L601.2 400.5L601.3 481.2L602.2 398.6L602.7 380.3L603.3 369.6L603.8 362.0L604.3 356.2L604.8 351.4L605.4 347.5L605.9 344.0L606.4 341.0L606.9 338.4L607.4 336.0L607.9 333.8L608.4 331.9L608.9 330.1L609.4 328.4L609.9 326.9L610.5 325.5L611.0 324.2L611.5 322.9L612.0 321.8L612.5 320.8L613.0 319.8L613.5 318.8L614.0 318.0L614.5 317.2L615.0 316.4L615.5 315.7L616.0 315.1L616.5 314.5L617.0 313.9L617.5 313.4L618.0 312.9L618.5 312.4L619.0 312.0L619.5 311.6L620.0 311.3L620.5 310.9L621.0 310.7L621.5 310.4L622.0 310.2L622.5 310.0L623.0 309.8L623.5 309.7L624.0 309.6L624.5 309.5L625.0 309.5L625.5 309.4L626.0 309.4L626.5 309.5L627.0 309.5L627.5 309.6L628.0 309.7L628.5 309.9L629.0 310.0L629.5 310.2L630.0 310.4L630.5 310.7L631.0 311.0L631.5 311.3L632.0 311.6L632.5 312.0L633.0 312.4L633.5 312.8L634.0 313.3L634.5 313.8L635.0 314.3L635.5 314.9L636.0 315.5L636.5 316.2L637.0 316.9L637.5 317.6L638.0 318.4L638.5 319.3L639.0 320.2L639.5 321.1L640.0 322.1L640.5 323.2L641.0 324.3L641.5 325.6L641.9 326.9L642.4 328.3L642.9 329.8L643.4 331.4L643.9 333.1L644.4 335.0L644.9 337.0L645.4 339.3L645.9 341.8L646.4 344.5L646.9 347.6L647.4 351.1L647.8 355.2L648.3 360.0L648.8 366.0L649.3 373.6L649.7 384.4L650.1 402.8L650.3 481.4L651.1 408.2L651.7 389.8L652.2 379.1L652.8 371.5L653.3 365.7L653.8 361.0L654.3 357.0L654.8 353.5L655.4 350.5L655.9 347.8L656.4 345.4L656.9 343.3L657.4 341.3L657.9 339.5L658.4 337.8L658.9 336.3L659.4 334.9L659.9 333.6L660.4 332.3L660.9 331.2L661.4 330.1L661.9 329.1L662.4 328.2L662.9 327.3L663.4 326.5L664.0 325.7L664.5 325.0L665.0 324.4L665.5 323.7L666.0 323.2L666.5 322.6L667.0 322.1L667.5 321.6L668.0 321.2L668.5 320.8L669.0 320.5L669.5 320.1L670.0 319.8L670.5 319.6L671.0 319.3L671.5 319.1L672.0 318.9L672.5 318.8L673.0 318.7L673.5 318.6L674.0 318.5L674.5 318.4L675.0 318.4L675.5 318.4L676.0 318.5L676.5 318.5L677.0 318.6L677.5 318.7L678.0 318.9L678.5 319.1L679.0 319.3L679.5 319.5L680.0 319.8L680.5 320.0L681.0 320.3L681.5 320.7L682.0 321.1L682.5 321.5L683.0 321.9L683.5 322.4L684.0 322.9L684.5 323.4L685.0 324.0L685.5 324.6L686.0 325.3L686.4 326.0L686.9 326.7L687.4 327.5L687.9 328.4L688.4 329.2L688.9 330.2L689.4 331.2L689.9 332.3L690.4 333.4L690.9 334.6L691.4 335.9L691.9 337.3L692.4 338.8" stroke="#ee2a30" stroke-width="1.05" fill="none" stroke-linejoin="round" clip-path="url(#cr)"/>
<path d="M145.0 318.2L145.5 316.3L146.0 314.5L146.5 312.9L147.0 311.3L147.5 309.9L148.0 308.5L148.5 307.3L149.0 306.1L149.5 305.0L150.0 304.0L150.5 303.0L151.0 302.1L151.5 301.2L152.0 300.4L152.5 299.6L153.1 298.9L153.6 298.2L154.1 297.6L154.6 297.0L155.1 296.5L155.6 295.9L156.1 295.5L156.6 295.0L157.1 294.6L157.6 294.2L158.1 293.9L158.6 293.5L159.1 293.3L159.6 293.0L160.1 292.8L160.6 292.6L161.1 292.4L161.6 292.3L162.1 292.2L162.6 292.1L163.1 292.0L163.6 292.0L164.1 292.0L164.6 292.0L165.1 292.1L165.6 292.2L166.1 292.3L166.6 292.5L167.1 292.7L167.6 292.9L168.1 293.1L168.6 293.4L169.1 293.7L169.6 294.1L170.1 294.5L170.6 294.9L171.1 295.4L171.6 295.9L172.1 296.5L172.6 297.1L173.1 297.7L173.6 298.4L174.1 299.2L174.5 300.0L175.0 300.8L175.5 301.8L176.0 302.8L176.5 303.8L177.0 305.0L177.5 306.3L178.0 307.6L178.5 309.1L179.0 310.7L179.5 312.4L180.0 314.4L180.5 316.5L181.0 318.8L181.5 321.4L182.0 324.4L182.4 327.8L182.9 331.7L183.4 336.4L183.9 342.2L184.4 349.7L184.8 360.3L185.2 378.6L185.3 479.6L186.2 379.1L186.8 360.6L187.4 349.8L187.9 342.1L188.4 336.1L188.9 331.2L189.4 327.1L190.0 323.5L190.5 320.4L191.0 317.6L191.5 315.1L192.0 312.8L192.5 310.7L193.0 308.8L193.5 307.0L194.0 305.3L194.5 303.8L195.0 302.3L195.5 301.0L196.0 299.7L196.6 298.5L197.1 297.4L197.6 296.4L198.1 295.4L198.6 294.5L199.1 293.6L199.6 292.8L200.1 292.0L200.6 291.2L201.1 290.6L201.6 289.9L202.1 289.3L202.6 288.7L203.1 288.2L203.6 287.7L204.1 287.2L204.6 286.8L205.1 286.4L205.6 286.0L206.1 285.7L206.6 285.4L207.1 285.1L207.6 284.9L208.1 284.7L208.6 284.5L209.1 284.3L209.6 284.2L210.1 284.1L210.6 284.0L211.1 284.0L211.6 284.0L212.1 284.0L212.6 284.1L213.1 284.1L213.6 284.3L214.1 284.4L214.6 284.6L215.1 284.8L215.6 285.0L216.1 285.3L216.6 285.6L217.1 286.0L217.6 286.4L218.1 286.8L218.6 287.2L219.1 287.8L219.6 288.3L220.1 288.9L220.6 289.6L221.1 290.3L221.6 291.0L222.1 291.9L222.6 292.8L223.1 293.7L223.6 294.8L224.1 295.9L224.6 297.1L225.1 298.4L225.5 299.8L226.0 301.4L226.5 303.1L227.0 305.0L227.5 307.0L228.0 309.3L228.5 311.9L229.0 314.8L229.5 318.1L230.0 322.0L230.4 326.7L230.9 332.4L231.4 339.9L231.8 350.5L232.3 368.7L232.3 479.7L233.3 368.4L233.9 349.9L234.4 339.0L234.9 331.2L235.4 325.2L236.0 320.3L236.5 316.1L237.0 312.5L237.5 309.3L238.0 306.5L238.5 303.9L239.0 301.6L239.6 299.4L240.1 297.4L240.6 295.6L241.1 293.9L241.6 292.3L242.1 290.8L242.6 289.4L243.1 288.1L243.6 286.9L244.1 285.7L244.6 284.6L245.1 283.6L245.6 282.6L246.1 281.6L246.6 280.8L247.1 279.9L247.6 279.1L248.1 278.4L248.6 277.7L249.1 277.0L249.6 276.4L250.1 275.8L250.6 275.3L251.1 274.8L251.6 274.3L252.2 273.8L252.7 273.4L253.2 273.0L253.7 272.7L254.2 272.3L254.7 272.0L255.2 271.8L255.7 271.5L256.2 271.3L256.7 271.2L257.2 271.0L257.7 270.9L258.2 270.8L258.7 270.8L259.2 270.7L259.7 270.7L260.2 270.8L260.7 270.8L261.2 270.9L261.7 271.1L262.2 271.2L262.7 271.5L263.2 271.7L263.7 272.0L264.2 272.3L264.7 272.6L265.2 273.0L265.7 273.5L266.2 274.0L266.6 274.5L267.1 275.1L267.6 275.7L268.1 276.5L268.6 277.2L269.1 278.1L269.6 279.0L270.1 280.0L270.6 281.1L271.1 282.3L271.6 283.6L272.1 285.0L272.6 286.6L273.1 288.3L273.6 290.3L274.1 292.4L274.6 294.9L275.1 297.6L275.5 300.8L276.0 304.6L276.5 309.1L277.0 314.7L277.5 322.0L277.9 332.5L278.3 350.6L278.3 479.9L279.4 349.1L279.9 330.5L280.5 319.4L281.0 311.5L281.5 305.4L282.0 300.3L282.6 295.9L283.1 292.2L283.6 288.8L284.1 285.8L284.6 283.0L285.1 280.5L285.6 278.2L286.1 276.0L286.7 274.0L287.2 272.1L287.7 270.4L288.2 268.7L288.7 267.1L289.2 265.6L289.7 264.1L290.2 262.8L290.7 261.4L291.2 260.2L291.7 259.0L292.2 257.8L292.7 256.7L293.2 255.6L293.7 254.6L294.2 253.6L294.7 252.7L295.2 251.8L295.7 250.9L296.2 250.0L296.7 249.2L297.3 248.4L297.8 247.6L298.3 246.9L298.8 246.2L299.3 245.5L299.8 244.8L300.3 244.1L300.8 243.5L301.3 242.9L301.8 242.3L302.3 241.7L302.8 241.2L303.3 240.6L303.8 240.1L304.3 239.6L304.8 239.1L305.3 238.7L305.8 238.2L306.3 237.8L306.8 237.4L307.3 236.9L307.8 236.6L308.3 236.2L308.8 235.8L309.3 235.5L309.8 235.1L310.3 234.8L310.8 234.5L311.3 234.2L311.8 233.9L312.3 233.7L312.8 233.4L313.3 233.2L313.8 232.9L314.3 232.7L314.8 232.5L315.3 232.3L315.8 232.1L316.3 231.9L316.8 231.8L317.3 231.6L317.8 231.5L318.3 231.4L318.8 231.3L319.3 231.1L319.8 231.1L320.3 231.0L320.8 230.9L321.3 230.8L321.8 230.8L322.3 230.8L322.8 230.7L323.3 230.7L323.8 230.7L324.3 230.7L324.8 230.7L325.3 230.7L325.8 230.8L326.3 230.8L326.8 230.9L327.3 230.9L327.8 231.0L328.3 231.1L328.8 231.2L329.3 231.3L329.8 231.4L330.3 231.6L330.8 231.7L331.3 231.8L331.8 232.0L332.3 232.2L332.8 232.4L333.3 232.6L333.8 232.8L334.3 233.0L334.8 233.2L335.3 233.4L335.8 233.7L336.3 233.9L336.8 234.2L337.3 234.5L337.8 234.8L338.3 235.1L338.8 235.4L339.3 235.8L339.8 236.1L340.3 236.5L340.8 236.8L341.3 237.2L341.8 237.6L342.3 238.1L342.8 238.5L343.3 238.9L343.8 239.4L344.3 239.9L344.8 240.4L345.3 240.9L345.8 241.4L346.3 241.9L346.8 242.5L347.3 243.1L347.8 243.7L348.3 244.3L348.8 244.9L349.3 245.6L349.8 246.3L350.3 247.0L350.8 247.7L351.3 248.5L351.7 249.3L352.2 250.1L352.7 250.9L353.2 251.8L353.7 252.7L354.2 253.6L354.7 254.6L355.2 255.6L355.7 256.6L356.2 257.7L356.7 258.9L357.2 260.0L357.7 261.3L358.2 262.6L358.7 263.9L359.2 265.3L359.7 266.8L360.2 268.4L360.7 270.0L361.2 271.8L361.7 273.7L362.1 275.6L362.6 277.8L363.1 280.1L363.6 282.6L364.1 285.3L364.6 288.3L365.1 291.6L365.6 295.3L366.1 299.6L366.5 304.7L367.0 310.8L367.5 318.7L367.9 329.7L368.4 348.3L368.3 480.3L369.4 348.5L369.9 330.4L370.5 320.0L371.0 312.7L371.5 307.1L372.0 302.6L372.6 298.8L373.1 295.7L373.6 292.9L374.1 290.5L374.6 288.3L375.1 286.4L375.6 284.7L376.1 283.1L376.6 281.7L377.1 280.4L377.6 279.2L378.1 278.1L378.6 277.1L379.1 276.2L379.6 275.4L380.1 274.7L380.7 274.0L381.2 273.3L381.7 272.8L382.2 272.2L382.7 271.8L383.2 271.3L383.7 271.0L384.2 270.6L384.7 270.3L385.2 270.1L385.7 269.9L386.2 269.7L386.7 269.5L387.2 269.4L387.7 269.3L388.2 269.3L388.7 269.3L389.2 269.3L389.7 269.4L390.2 269.4L390.7 269.6L391.2 269.7L391.7 269.9L392.2 270.1L392.7 270.3L393.2 270.6L393.7 270.9L394.2 271.2L394.7 271.6L395.2 272.0L395.7 272.4L396.2 272.9L396.7 273.4L397.2 273.9L397.6 274.5L398.1 275.1L398.6 275.7L399.1 276.4L399.6 277.1L400.1 277.9L400.6 278.7L401.1 279.5L401.6 280.4L402.1 281.4L402.6 282.4L403.1 283.5L403.6 284.6L404.1 285.8L404.6 287.1L405.1 288.5L405.6 289.9L406.1 291.5L406.6 293.1L407.1 294.9L407.6 296.8L408.1 298.9L408.5 301.2L409.0 303.6L409.5 306.4L410.0 309.4L410.5 312.9L411.0 316.8L411.5 321.4L411.9 326.9L412.4 333.9L412.9 343.2L413.3 357.7L413.7 391.1L414.2 383.4L414.8 357.5L415.4 344.8L415.9 336.3L416.4 330.0L417.0 325.0L417.5 320.8L418.0 317.3L418.5 314.2L419.0 311.5L419.5 309.2L420.0 307.0L420.5 305.1L421.0 303.3L421.5 301.7L422.0 300.3L422.6 298.9L423.1 297.7L423.6 296.5L424.1 295.5L424.6 294.5L425.1 293.6L425.6 292.8L426.1 292.0L426.6 291.3L427.1 290.6L427.6 290.0L428.1 289.5L428.6 289.0L429.1 288.5L429.6 288.1L430.1 287.7L430.6 287.3L431.1 287.0L431.6 286.8L432.1 286.5L432.6 286.3L433.1 286.2L433.6 286.0L434.1 285.9L434.6 285.9L435.1 285.8L435.6 285.8L436.1 285.9L436.6 285.9L437.1 286.0L437.6 286.1L438.1 286.3L438.6 286.4L439.1 286.7L439.6 286.9L440.1 287.2L440.6 287.5L441.1 287.8L441.6 288.2L442.1 288.6L442.6 289.0L443.1 289.5L443.6 290.0L444.1 290.5L444.6 291.1L445.1 291.7L445.6 292.4L446.1 293.1L446.6 293.8L447.1 294.6L447.6 295.4L448.1 296.3L448.6 297.3L449.1 298.3L449.6 299.4L450.0 300.5L450.5 301.7L451.0 303.0L451.5 304.4L452.0 305.9L452.5 307.5L453.0 309.2L453.5 311.0L454.0 313.0L454.5 315.2L455.0 317.5L455.5 320.2L456.0 323.1L456.4 326.4L456.9 330.2L457.4 334.6L457.9 339.8L458.4 346.4L458.8 355.1L459.3 368.1L459.7 394.2L460.1 404.4L460.8 371.3L461.3 357.1L461.9 347.9L462.4 341.2L462.9 335.9L463.4 331.6L463.9 327.9L464.5 324.7L465.0 321.9L465.5 319.4L466.0 317.2L466.5 315.2L467.0 313.4L467.5 311.7L468.0 310.2L468.5 308.7L469.0 307.4L469.5 306.2L470.0 305.1L470.5 304.1L471.0 303.1L471.5 302.2L472.0 301.4L472.5 300.6L473.0 299.9L473.6 299.3L474.1 298.7L474.6 298.1L475.1 297.6L475.6 297.1L476.1 296.7L476.6 296.3L477.1 296.0L477.6 295.7L478.1 295.4L478.6 295.1L479.1 294.9L479.6 294.7L480.1 294.6L480.6 294.5L481.1 294.4L481.6 294.4L482.1 294.4L482.6 294.4L483.1 294.4L483.6 294.5L484.1 294.6L484.6 294.7L485.1 294.9L485.6 295.1L486.1 295.3L486.6 295.6L487.1 295.9L487.6 296.2L488.1 296.6L488.6 296.9L489.1 297.4L489.6 297.8L490.1 298.3L490.6 298.9L491.1 299.4L491.5 300.0L492.0 300.7L492.5 301.4L493.0 302.1L493.5 302.9L494.0 303.8L494.5 304.7L495.0 305.6L495.5 306.7L496.0 307.7L496.5 308.9L497.0 310.1L497.5 311.5L498.0 312.9L498.5 314.4L499.0 316.0L499.5 317.8L500.0 319.7L500.5 321.7L501.0 324.0L501.4 326.5L501.9 329.3L502.4 332.4L502.9 335.9L503.4 340.0L503.9 344.9L504.4 350.8L504.8 358.5L505.3 369.3L505.7 387.8L505.8 480.8L506.7 388.6L507.3 370.3L507.8 359.7L508.3 352.1L508.9 346.3L509.4 341.6L509.9 337.6L510.4 334.2L510.9 331.3L511.4 328.6L511.9 326.3L512.5 324.1L513.0 322.2L513.5 320.4L514.0 318.8L514.5 317.3L515.0 315.9L515.5 314.7L516.0 313.5L516.5 312.4L517.0 311.3L517.5 310.4L518.0 309.5L518.5 308.7L519.0 307.9L519.5 307.2L520.0 306.5L520.5 305.9L521.0 305.3L521.5 304.8L522.0 304.3L522.5 303.8L523.0 303.4L523.5 303.0L524.0 302.7L524.5 302.4L525.0 302.1L525.5 301.8L526.0 301.6L526.5 301.4L527.0 301.3L527.5 301.2L528.0 301.1L528.5 301.0L529.0 301.0L529.5 301.0L530.0 301.0L530.5 301.0L531.0 301.1L531.5 301.2L532.0 301.3L532.5 301.5L533.0 301.7L533.5 301.9L534.0 302.2L534.5 302.4L535.0 302.8L535.5 303.1L536.0 303.5L536.5 303.9L537.0 304.3L537.5 304.8L538.0 305.3L538.5 305.8L539.0 306.4L539.5 307.0L540.0 307.7L540.5 308.4L541.0 309.2L541.5 310.0L542.0 310.8L542.5 311.7L543.0 312.7L543.5 313.7L544.0 314.8L544.5 315.9L545.0 317.2L545.5 318.5L546.0 319.9L546.5 321.4L547.0 323.0L547.5 324.8L547.9 326.7L548.4 328.7L548.9 331.0L549.4 333.5L549.9 336.2L550.4 339.3L550.9 342.9L551.4 346.9L551.8 351.8L552.3 357.7L552.8 365.4L553.3 376.2L553.7 394.6L553.8 481.0L554.7 395.6L555.2 377.2L555.8 366.6L556.3 359.0L556.8 353.2L557.4 348.5L557.9 344.5L558.4 341.1L558.9 338.1L559.4 335.4L559.9 333.1L560.4 330.9L560.9 329.0L561.4 327.2L561.9 325.6L562.5 324.1L563.0 322.7L563.5 321.4L564.0 320.2L564.5 319.1L565.0 318.1L565.5 317.1L566.0 316.2L566.5 315.4L567.0 314.6L567.5 313.8L568.0 313.2L568.5 312.5L569.0 312.0L569.5 311.4L570.0 310.9L570.5 310.5L571.0 310.0L571.5 309.7L572.0 309.3L572.5 309.0L573.0 308.7L573.5 308.5L574.0 308.2L574.5 308.1L575.0 307.9L575.5 307.8L576.0 307.7L576.5 307.6L577.0 307.6L577.5 307.6L578.0 307.6L578.5 307.7L579.0 307.7L579.5 307.9L580.0 308.0L580.5 308.2L581.0 308.4L581.5 308.6L582.0 308.9L582.5 309.1L583.0 309.5L583.5 309.8L584.0 310.2L584.5 310.6L585.0 311.1L585.5 311.6L586.0 312.1L586.5 312.7L587.0 313.3L587.5 313.9L588.0 314.6L588.5 315.3L589.0 316.1L589.5 316.9L590.0 317.8L590.5 318.8L591.0 319.8L591.5 320.9L592.0 322.0L592.5 323.2L593.0 324.5L593.4 325.9L593.9 327.4L594.4 329.0L594.9 330.7L595.4 332.6L595.9 334.7L596.4 336.9L596.9 339.4L597.4 342.2L597.9 345.3L598.4 348.8L598.8 352.9L599.3 357.7L599.8 363.6L600.3 371.3L600.7 382.1L601.2 400.5L601.3 481.2L602.2 398.6L602.7 380.3L603.3 369.6L603.8 362.0L604.3 356.2L604.8 351.4L605.4 347.5L605.9 344.0L606.4 341.0L606.9 338.4L607.4 336.0L607.9 333.8L608.4 331.9L608.9 330.1L609.4 328.4L609.9 326.9L610.5 325.5L611.0 324.2L611.5 322.9L612.0 321.8L612.5 320.8L613.0 319.8L613.5 318.8L614.0 318.0L614.5 317.2L615.0 316.4L615.5 315.7L616.0 315.1L616.5 314.5L617.0 313.9L617.5 313.4L618.0 312.9L618.5 312.4L619.0 312.0L619.5 311.6L620.0 311.3L620.5 310.9L621.0 310.7L621.5 310.4L622.0 310.2L622.5 310.0L623.0 309.8L623.5 309.7L624.0 309.6L624.5 309.5L625.0 309.5L625.5 309.4L626.0 309.4L626.5 309.5L627.0 309.5L627.5 309.6L628.0 309.7L628.5 309.9L629.0 310.0L629.5 310.2L630.0 310.4L630.5 310.7L631.0 311.0L631.5 311.3L632.0 311.6L632.5 312.0L633.0 312.4L633.5 312.8L634.0 313.3L634.5 313.8L635.0 314.3L635.5 314.9L636.0 315.5L636.5 316.2L637.0 316.9L637.5 317.6L638.0 318.4L638.5 319.3L639.0 320.2L639.5 321.1L640.0 322.1L640.5 323.2L641.0 324.3L641.5 325.6L641.9 326.9L642.4 328.3L642.9 329.8L643.4 331.4L643.9 333.1L644.4 335.0L644.9 337.0L645.4 339.3L645.9 341.8L646.4 344.5L646.9 347.6L647.4 351.1L647.8 355.2L648.3 360.0L648.8 366.0L649.3 373.6L649.7 384.4L650.1 402.8L650.3 481.4L651.1 408.2L651.7 389.8L652.2 379.1L652.8 371.5L653.3 365.7L653.8 361.0L654.3 357.0L654.8 353.5L655.4 350.5L655.9 347.8L656.4 345.4L656.9 343.3L657.4 341.3L657.9 339.5L658.4 337.8L658.9 336.3L659.4 334.9L659.9 333.6L660.4 332.3L660.9 331.2L661.4 330.1L661.9 329.1L662.4 328.2L662.9 327.3L663.4 326.5L664.0 325.7L664.5 325.0L665.0 324.4L665.5 323.7L666.0 323.2L666.5 322.6L667.0 322.1L667.5 321.6L668.0 321.2L668.5 320.8L669.0 320.5L669.5 320.1L670.0 319.8L670.5 319.6L671.0 319.3L671.5 319.1L672.0 318.9L672.5 318.8L673.0 318.7L673.5 318.6L674.0 318.5L674.5 318.4L675.0 318.4L675.5 318.4L676.0 318.5L676.5 318.5L677.0 318.6L677.5 318.7L678.0 318.9L678.5 319.1L679.0 319.3L679.5 319.5L680.0 319.8L680.5 320.0L681.0 320.3L681.5 320.7L682.0 321.1L682.5 321.5L683.0 321.9L683.5 322.4L684.0 322.9L684.5 323.4L685.0 324.0L685.5 324.6L686.0 325.3L686.4 326.0L686.9 326.7L687.4 327.5L687.9 328.4L688.4 329.2L688.9 330.2L689.4 331.2L689.9 332.3L690.4 333.4L690.9 334.6L691.4 335.9L691.9 337.3L692.4 338.8" stroke="#c03048" stroke-width="0.8" fill="none" stroke-linejoin="round" opacity="0.5"/>
<line x1="232.3" y1="193" x2="232.3" y2="479.7" stroke="#2a2a30" stroke-width="1.15"/>
<line x1="323.6" y1="143.5" x2="323.6" y2="300.0" stroke="#2a2a30" stroke-width="1.15"/>
<line x1="414.2" y1="216" x2="414.2" y2="480.5" stroke="#2a2a30" stroke-width="1.15"/>
<line x1="506.8" y1="203.3" x2="506.8" y2="480.8" stroke="#2a2a30" stroke-width="1.15"/>
<line x1="602.4" y1="264" x2="602.4" y2="481.2" stroke="#2a2a30" stroke-width="1.15"/>
<rect x="323.3" y="268" width="1.4" height="212.4" fill="#fff"/>
</g>
<g transform="rotate(0.225 145.0 312.0)">
<rect x="145.0" y="143.0" width="547.9" height="336.4" fill="none" stroke="#484848" stroke-width="1.15"/>
<path d="M145.0 143.0v10.5M145.0 479.4v-10.5M157.2 143.0v6.5M157.2 479.4v-6.5M169.3 143.0v6.5M169.3 479.4v-6.5M181.5 143.0v6.5M181.5 479.4v-6.5M193.7 143.0v6.5M193.7 479.4v-6.5M205.9 143.0v10.5M205.9 479.4v-10.5M218.1 143.0v6.5M218.1 479.4v-6.5M230.2 143.0v6.5M230.2 479.4v-6.5M242.4 143.0v6.5M242.4 479.4v-6.5M254.6 143.0v6.5M254.6 479.4v-6.5M266.8 143.0v10.5M266.8 479.4v-10.5M278.9 143.0v6.5M278.9 479.4v-6.5M291.1 143.0v6.5M291.1 479.4v-6.5M303.3 143.0v6.5M303.3 479.4v-6.5M315.5 143.0v6.5M315.5 479.4v-6.5M327.6 143.0v10.5M327.6 479.4v-10.5M339.8 143.0v6.5M339.8 479.4v-6.5M352.0 143.0v6.5M352.0 479.4v-6.5M364.1 143.0v6.5M364.1 479.4v-6.5M376.3 143.0v6.5M376.3 479.4v-6.5M388.5 143.0v10.5M388.5 479.4v-10.5M400.7 143.0v6.5M400.7 479.4v-6.5M412.9 143.0v6.5M412.9 479.4v-6.5M425.0 143.0v6.5M425.0 479.4v-6.5M437.2 143.0v6.5M437.2 479.4v-6.5M449.4 143.0v10.5M449.4 479.4v-10.5M461.6 143.0v6.5M461.6 479.4v-6.5M473.7 143.0v6.5M473.7 479.4v-6.5M485.9 143.0v6.5M485.9 479.4v-6.5M498.1 143.0v6.5M498.1 479.4v-6.5M510.2 143.0v10.5M510.2 479.4v-10.5M522.4 143.0v6.5M522.4 479.4v-6.5M534.6 143.0v6.5M534.6 479.4v-6.5M546.8 143.0v6.5M546.8 479.4v-6.5M559.0 143.0v6.5M559.0 479.4v-6.5M571.1 143.0v10.5M571.1 479.4v-10.5M583.3 143.0v6.5M583.3 479.4v-6.5M595.5 143.0v6.5M595.5 479.4v-6.5M607.7 143.0v6.5M607.7 479.4v-6.5M619.8 143.0v6.5M619.8 479.4v-6.5M632.0 143.0v10.5M632.0 479.4v-10.5M644.2 143.0v6.5M644.2 479.4v-6.5M656.4 143.0v6.5M656.4 479.4v-6.5M668.5 143.0v6.5M668.5 479.4v-6.5M680.7 143.0v6.5M680.7 479.4v-6.5M692.9 143.0v10.5M692.9 479.4v-10.5M145.0 143.1h6.5M692.9 143.1h-6.5M145.0 158.4h10M692.9 158.4h-10M145.0 173.7h6.5M692.9 173.7h-6.5M145.0 189.0h6.5M692.9 189.0h-6.5M145.0 204.2h6.5M692.9 204.2h-6.5M145.0 219.5h10M692.9 219.5h-10M145.0 234.8h6.5M692.9 234.8h-6.5M145.0 250.1h6.5M692.9 250.1h-6.5M145.0 265.4h6.5M692.9 265.4h-6.5M145.0 280.6h10M692.9 280.6h-10M145.0 295.9h6.5M692.9 295.9h-6.5M145.0 311.2h6.5M692.9 311.2h-6.5M145.0 326.5h6.5M692.9 326.5h-6.5M145.0 341.8h10M692.9 341.8h-10M145.0 357.0h6.5M692.9 357.0h-6.5M145.0 372.3h6.5M692.9 372.3h-6.5M145.0 387.6h6.5M692.9 387.6h-6.5M145.0 402.9h10M692.9 402.9h-10M145.0 418.2h6.5M692.9 418.2h-6.5M145.0 433.4h6.5M692.9 433.4h-6.5M145.0 448.7h6.5M692.9 448.7h-6.5M145.0 464.0h10M692.9 464.0h-10M145.0 479.3h6.5M692.9 479.3h-6.5" stroke="#404040" stroke-width="1.25" fill="none"/>
<g font-family="'DejaVu Sans','Liberation Sans',sans-serif" font-size="14.4" fill="#3c3c3c">
<text x="131.6" y="500.2"><tspan textLength="8.6" lengthAdjust="spacingAndGlyphs">-</tspan><tspan x="140.7" letter-spacing="0.5">15</tspan></text>
<text x="192.4" y="500.2"><tspan textLength="8.6" lengthAdjust="spacingAndGlyphs">-</tspan><tspan x="201.6" letter-spacing="0.5">10</tspan></text>
<text x="258.2" y="500.2"><tspan textLength="8.6" lengthAdjust="spacingAndGlyphs">-</tspan><tspan x="267.3" letter-spacing="0.5">5</tspan></text>
<text x="326.9" y="500.2" letter-spacing="0.5">0</text>
<text x="387.8" y="500.2" letter-spacing="0.5">5</text>
<text x="440.3" y="500.2" letter-spacing="0.5">10</text>
<text x="501.1" y="500.2" letter-spacing="0.5">15</text>
<text x="562.0" y="500.2" letter-spacing="0.5">20</text>
<text x="622.9" y="500.2" letter-spacing="0.5">25</text>
<text x="683.8" y="500.2" letter-spacing="0.5">30</text>
<text x="128.8" y="163.6" letter-spacing="0.5">0</text>
<text x="119.6" y="224.7"><tspan textLength="8.6" lengthAdjust="spacingAndGlyphs">-</tspan><tspan x="128.8" letter-spacing="0.5">2</tspan></text>
<text x="119.6" y="285.8"><tspan textLength="8.6" lengthAdjust="spacingAndGlyphs">-</tspan><tspan x="128.8" letter-spacing="0.5">4</tspan></text>
<text x="119.6" y="347.0"><tspan textLength="8.6" lengthAdjust="spacingAndGlyphs">-</tspan><tspan x="128.8" letter-spacing="0.5">6</tspan></text>
<text x="119.6" y="408.1"><tspan textLength="8.6" lengthAdjust="spacingAndGlyphs">-</tspan><tspan x="128.8" letter-spacing="0.5">8</tspan></text>
<text x="110.0" y="469.2"><tspan textLength="8.6" lengthAdjust="spacingAndGlyphs">-</tspan><tspan x="119.1" letter-spacing="0.5">10</tspan></text>
</g>
<g font-family="'DejaVu Sans Mono','Liberation Mono',monospace" font-size="14.5" fill="#3c3c3c">
<text x="343.8" y="519.2" style="letter-spacing:0.62px">Diffracted angle</text>
<text transform="translate(95.2 423.6) rotate(-90)" style="letter-spacing:1.4px">Log [Grating-Function]</text>
</g>
</g>
<path d="M420.5 502v14" stroke="#888" stroke-width="0.8"/><circle cx="515.5" cy="510" r="0.9" fill="#777"/>
</g>
</svg>
<div class="rule" style="top:540.5px"></div>
<div class="ft it" style="left:87.2px;letter-spacing:0.3px">UoOK @ Norman</div>
<div class="ft it" style="left:232.8px;letter-spacing:0.2px">16-09-99</div>
<div class="ft" style="left:316.2px;font-weight:bold;letter-spacing:0.27px">Calibration &amp; Analysis</div>
<div class="ft it" style="left:631.2px;letter-spacing:0.3px">M. Rosa</div>
<div class="num">23</div>
</body></html>
